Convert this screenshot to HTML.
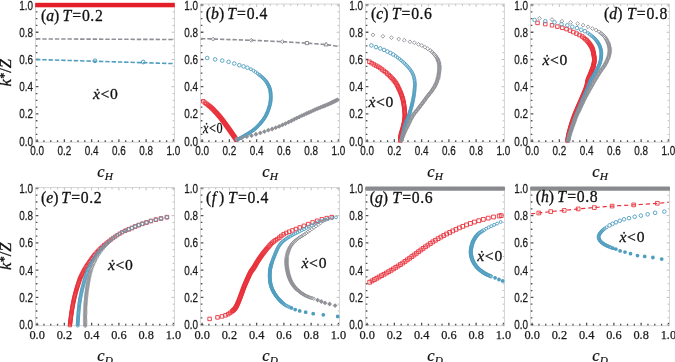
<!DOCTYPE html><html><head><meta charset="utf-8"><style>html,body{margin:0;padding:0;background:#fff;overflow:hidden}svg{display:block;will-change:transform}.tk{font-family:"Liberation Sans",sans-serif;font-size:12.7px;fill:#1a1a1a;stroke:#1a1a1a;stroke-width:0.25px}.tx{font-family:"Liberation Serif",serif;font-size:12.3px;fill:#1a1a1a;stroke:#1a1a1a;stroke-width:0.25px}.ti{font-family:"Liberation Serif",serif;font-size:15.7px;fill:#111;stroke:#111;stroke-width:0.3px}.xn{font-family:"Liberation Serif",serif;font-size:15.6px;fill:#111;stroke:#111;stroke-width:0.3px}.ax{font-family:"Liberation Serif",serif;font-size:16.5px;fill:#111;stroke:#111;stroke-width:0.3px}</style></head><body>
<svg width="675" height="362" viewBox="0 0 675 362">
<rect width="675" height="362" fill="#fff"/>
<rect x="35.5" y="4" width="139" height="138.2" fill="none" stroke="#d6d6d6" stroke-width="1"/>
<path d="M35.8 141.2h2.6M37.1 141.9v-2.6M35.8 134.39h1.6M43.92 141.9v-1.6M35.8 127.58h1.6M50.73 141.9v-1.6M35.8 120.77h1.6M57.55 141.9v-1.6M35.8 113.96h2.6M64.36 141.9v-2.6M35.8 107.15h1.6M71.18 141.9v-1.6M35.8 100.34h1.6M77.99 141.9v-1.6M35.8 93.53h1.6M84.81 141.9v-1.6M35.8 86.72h2.6M91.62 141.9v-2.6M35.8 79.91h1.6M98.44 141.9v-1.6M35.8 73.1h1.6M105.25 141.9v-1.6M35.8 66.29h1.6M112.07 141.9v-1.6M35.8 59.48h2.6M118.88 141.9v-2.6M35.8 52.67h1.6M125.7 141.9v-1.6M35.8 45.86h1.6M132.51 141.9v-1.6M35.8 39.05h1.6M139.33 141.9v-1.6M35.8 32.24h2.6M146.14 141.9v-2.6M35.8 25.43h1.6M152.96 141.9v-1.6M35.8 18.62h1.6M159.77 141.9v-1.6M35.8 11.81h1.6M166.59 141.9v-1.6M35.8 5h2.6M173.4 141.9v-2.6" stroke="#505050" stroke-width="1.3" fill="none"/>
<path d="M174.2 141.2h-2.6M37.1 4.3v2.6M174.2 134.39h-1.6M43.92 4.3v1.6M174.2 127.58h-1.6M50.73 4.3v1.6M174.2 120.77h-1.6M57.55 4.3v1.6M174.2 113.96h-2.6M64.36 4.3v2.6M174.2 107.15h-1.6M71.18 4.3v1.6M174.2 100.34h-1.6M77.99 4.3v1.6M174.2 93.53h-1.6M84.81 4.3v1.6M174.2 86.72h-2.6M91.62 4.3v2.6M174.2 79.91h-1.6M98.44 4.3v1.6M174.2 73.1h-1.6M105.25 4.3v1.6M174.2 66.29h-1.6M112.07 4.3v1.6M174.2 59.48h-2.6M118.88 4.3v2.6M174.2 52.67h-1.6M125.7 4.3v1.6M174.2 45.86h-1.6M132.51 4.3v1.6M174.2 39.05h-1.6M139.33 4.3v1.6M174.2 32.24h-2.6M146.14 4.3v2.6M174.2 25.43h-1.6M152.96 4.3v1.6M174.2 18.62h-1.6M159.77 4.3v1.6M174.2 11.81h-1.6M166.59 4.3v1.6M174.2 5h-2.6M173.4 4.3v2.6" stroke="#bdbdbd" stroke-width="1" fill="none"/>
<text x="0" y="0" transform="translate(33 145.7) scale(0.78 1)" text-anchor="end" class="tk">0.0</text>
<text x="0" y="0" transform="translate(33 118.46) scale(0.78 1)" text-anchor="end" class="tk">0.2</text>
<text x="0" y="0" transform="translate(33 91.22) scale(0.78 1)" text-anchor="end" class="tk">0.4</text>
<text x="0" y="0" transform="translate(33 63.98) scale(0.78 1)" text-anchor="end" class="tk">0.6</text>
<text x="0" y="0" transform="translate(33 36.74) scale(0.78 1)" text-anchor="end" class="tk">0.8</text>
<text x="0" y="0" transform="translate(33 9.5) scale(0.78 1)" text-anchor="end" class="tk">1.0</text>
<text x="0" y="0" transform="translate(37.1 155.1) scale(0.78 1)" text-anchor="middle" class="tk">0.0</text>
<text x="0" y="0" transform="translate(64.36 155.1) scale(0.78 1)" text-anchor="middle" class="tk">0.2</text>
<text x="0" y="0" transform="translate(91.62 155.1) scale(0.78 1)" text-anchor="middle" class="tk">0.4</text>
<text x="0" y="0" transform="translate(118.88 155.1) scale(0.78 1)" text-anchor="middle" class="tk">0.6</text>
<text x="0" y="0" transform="translate(146.14 155.1) scale(0.78 1)" text-anchor="middle" class="tk">0.8</text>
<text x="0" y="0" transform="translate(173.4 155.1) scale(0.78 1)" text-anchor="middle" class="tk">1.0</text>
<rect x="200.5" y="4" width="139" height="138.2" fill="none" stroke="#d6d6d6" stroke-width="1"/>
<path d="M200.8 141.2h2.6M202.1 141.9v-2.6M200.8 134.39h1.6M208.91 141.9v-1.6M200.8 127.58h1.6M215.73 141.9v-1.6M200.8 120.77h1.6M222.54 141.9v-1.6M200.8 113.96h2.6M229.36 141.9v-2.6M200.8 107.15h1.6M236.18 141.9v-1.6M200.8 100.34h1.6M242.99 141.9v-1.6M200.8 93.53h1.6M249.81 141.9v-1.6M200.8 86.72h2.6M256.62 141.9v-2.6M200.8 79.91h1.6M263.44 141.9v-1.6M200.8 73.1h1.6M270.25 141.9v-1.6M200.8 66.29h1.6M277.06 141.9v-1.6M200.8 59.48h2.6M283.88 141.9v-2.6M200.8 52.67h1.6M290.69 141.9v-1.6M200.8 45.86h1.6M297.51 141.9v-1.6M200.8 39.05h1.6M304.32 141.9v-1.6M200.8 32.24h2.6M311.14 141.9v-2.6M200.8 25.43h1.6M317.96 141.9v-1.6M200.8 18.62h1.6M324.77 141.9v-1.6M200.8 11.81h1.6M331.59 141.9v-1.6M200.8 5h2.6M338.4 141.9v-2.6" stroke="#505050" stroke-width="1.3" fill="none"/>
<path d="M339.2 141.2h-2.6M202.1 4.3v2.6M339.2 134.39h-1.6M208.91 4.3v1.6M339.2 127.58h-1.6M215.73 4.3v1.6M339.2 120.77h-1.6M222.54 4.3v1.6M339.2 113.96h-2.6M229.36 4.3v2.6M339.2 107.15h-1.6M236.18 4.3v1.6M339.2 100.34h-1.6M242.99 4.3v1.6M339.2 93.53h-1.6M249.81 4.3v1.6M339.2 86.72h-2.6M256.62 4.3v2.6M339.2 79.91h-1.6M263.44 4.3v1.6M339.2 73.1h-1.6M270.25 4.3v1.6M339.2 66.29h-1.6M277.06 4.3v1.6M339.2 59.48h-2.6M283.88 4.3v2.6M339.2 52.67h-1.6M290.69 4.3v1.6M339.2 45.86h-1.6M297.51 4.3v1.6M339.2 39.05h-1.6M304.32 4.3v1.6M339.2 32.24h-2.6M311.14 4.3v2.6M339.2 25.43h-1.6M317.96 4.3v1.6M339.2 18.62h-1.6M324.77 4.3v1.6M339.2 11.81h-1.6M331.59 4.3v1.6M339.2 5h-2.6M338.4 4.3v2.6" stroke="#bdbdbd" stroke-width="1" fill="none"/>
<text x="0" y="0" transform="translate(198 145.7) scale(0.78 1)" text-anchor="end" class="tk">0.0</text>
<text x="0" y="0" transform="translate(198 118.46) scale(0.78 1)" text-anchor="end" class="tk">0.2</text>
<text x="0" y="0" transform="translate(198 91.22) scale(0.78 1)" text-anchor="end" class="tk">0.4</text>
<text x="0" y="0" transform="translate(198 63.98) scale(0.78 1)" text-anchor="end" class="tk">0.6</text>
<text x="0" y="0" transform="translate(198 36.74) scale(0.78 1)" text-anchor="end" class="tk">0.8</text>
<text x="0" y="0" transform="translate(198 9.5) scale(0.78 1)" text-anchor="end" class="tk">1.0</text>
<text x="0" y="0" transform="translate(202.1 155.1) scale(0.78 1)" text-anchor="middle" class="tk">0.0</text>
<text x="0" y="0" transform="translate(229.36 155.1) scale(0.78 1)" text-anchor="middle" class="tk">0.2</text>
<text x="0" y="0" transform="translate(256.62 155.1) scale(0.78 1)" text-anchor="middle" class="tk">0.4</text>
<text x="0" y="0" transform="translate(283.88 155.1) scale(0.78 1)" text-anchor="middle" class="tk">0.6</text>
<text x="0" y="0" transform="translate(311.14 155.1) scale(0.78 1)" text-anchor="middle" class="tk">0.8</text>
<text x="0" y="0" transform="translate(338.4 155.1) scale(0.78 1)" text-anchor="middle" class="tk">1.0</text>
<rect x="365.5" y="4" width="139" height="138.2" fill="none" stroke="#d6d6d6" stroke-width="1"/>
<path d="M365.8 141.2h2.6M367.1 141.9v-2.6M365.8 134.39h1.6M373.92 141.9v-1.6M365.8 127.58h1.6M380.73 141.9v-1.6M365.8 120.77h1.6M387.55 141.9v-1.6M365.8 113.96h2.6M394.36 141.9v-2.6M365.8 107.15h1.6M401.18 141.9v-1.6M365.8 100.34h1.6M407.99 141.9v-1.6M365.8 93.53h1.6M414.81 141.9v-1.6M365.8 86.72h2.6M421.62 141.9v-2.6M365.8 79.91h1.6M428.44 141.9v-1.6M365.8 73.1h1.6M435.25 141.9v-1.6M365.8 66.29h1.6M442.07 141.9v-1.6M365.8 59.48h2.6M448.88 141.9v-2.6M365.8 52.67h1.6M455.7 141.9v-1.6M365.8 45.86h1.6M462.51 141.9v-1.6M365.8 39.05h1.6M469.33 141.9v-1.6M365.8 32.24h2.6M476.14 141.9v-2.6M365.8 25.43h1.6M482.96 141.9v-1.6M365.8 18.62h1.6M489.77 141.9v-1.6M365.8 11.81h1.6M496.59 141.9v-1.6M365.8 5h2.6M503.4 141.9v-2.6" stroke="#505050" stroke-width="1.3" fill="none"/>
<path d="M504.2 141.2h-2.6M367.1 4.3v2.6M504.2 134.39h-1.6M373.92 4.3v1.6M504.2 127.58h-1.6M380.73 4.3v1.6M504.2 120.77h-1.6M387.55 4.3v1.6M504.2 113.96h-2.6M394.36 4.3v2.6M504.2 107.15h-1.6M401.18 4.3v1.6M504.2 100.34h-1.6M407.99 4.3v1.6M504.2 93.53h-1.6M414.81 4.3v1.6M504.2 86.72h-2.6M421.62 4.3v2.6M504.2 79.91h-1.6M428.44 4.3v1.6M504.2 73.1h-1.6M435.25 4.3v1.6M504.2 66.29h-1.6M442.07 4.3v1.6M504.2 59.48h-2.6M448.88 4.3v2.6M504.2 52.67h-1.6M455.7 4.3v1.6M504.2 45.86h-1.6M462.51 4.3v1.6M504.2 39.05h-1.6M469.33 4.3v1.6M504.2 32.24h-2.6M476.14 4.3v2.6M504.2 25.43h-1.6M482.96 4.3v1.6M504.2 18.62h-1.6M489.77 4.3v1.6M504.2 11.81h-1.6M496.59 4.3v1.6M504.2 5h-2.6M503.4 4.3v2.6" stroke="#bdbdbd" stroke-width="1" fill="none"/>
<text x="0" y="0" transform="translate(363 145.7) scale(0.78 1)" text-anchor="end" class="tk">0.0</text>
<text x="0" y="0" transform="translate(363 118.46) scale(0.78 1)" text-anchor="end" class="tk">0.2</text>
<text x="0" y="0" transform="translate(363 91.22) scale(0.78 1)" text-anchor="end" class="tk">0.4</text>
<text x="0" y="0" transform="translate(363 63.98) scale(0.78 1)" text-anchor="end" class="tk">0.6</text>
<text x="0" y="0" transform="translate(363 36.74) scale(0.78 1)" text-anchor="end" class="tk">0.8</text>
<text x="0" y="0" transform="translate(363 9.5) scale(0.78 1)" text-anchor="end" class="tk">1.0</text>
<text x="0" y="0" transform="translate(367.1 155.1) scale(0.78 1)" text-anchor="middle" class="tk">0.0</text>
<text x="0" y="0" transform="translate(394.36 155.1) scale(0.78 1)" text-anchor="middle" class="tk">0.2</text>
<text x="0" y="0" transform="translate(421.62 155.1) scale(0.78 1)" text-anchor="middle" class="tk">0.4</text>
<text x="0" y="0" transform="translate(448.88 155.1) scale(0.78 1)" text-anchor="middle" class="tk">0.6</text>
<text x="0" y="0" transform="translate(476.14 155.1) scale(0.78 1)" text-anchor="middle" class="tk">0.8</text>
<text x="0" y="0" transform="translate(503.4 155.1) scale(0.78 1)" text-anchor="middle" class="tk">1.0</text>
<rect x="530.5" y="4" width="139" height="138.2" fill="none" stroke="#d6d6d6" stroke-width="1"/>
<path d="M530.8 141.2h2.6M532.1 141.9v-2.6M530.8 134.39h1.6M538.92 141.9v-1.6M530.8 127.58h1.6M545.73 141.9v-1.6M530.8 120.77h1.6M552.55 141.9v-1.6M530.8 113.96h2.6M559.36 141.9v-2.6M530.8 107.15h1.6M566.18 141.9v-1.6M530.8 100.34h1.6M572.99 141.9v-1.6M530.8 93.53h1.6M579.81 141.9v-1.6M530.8 86.72h2.6M586.62 141.9v-2.6M530.8 79.91h1.6M593.44 141.9v-1.6M530.8 73.1h1.6M600.25 141.9v-1.6M530.8 66.29h1.6M607.07 141.9v-1.6M530.8 59.48h2.6M613.88 141.9v-2.6M530.8 52.67h1.6M620.7 141.9v-1.6M530.8 45.86h1.6M627.51 141.9v-1.6M530.8 39.05h1.6M634.33 141.9v-1.6M530.8 32.24h2.6M641.14 141.9v-2.6M530.8 25.43h1.6M647.96 141.9v-1.6M530.8 18.62h1.6M654.77 141.9v-1.6M530.8 11.81h1.6M661.59 141.9v-1.6M530.8 5h2.6M668.4 141.9v-2.6" stroke="#505050" stroke-width="1.3" fill="none"/>
<path d="M669.2 141.2h-2.6M532.1 4.3v2.6M669.2 134.39h-1.6M538.92 4.3v1.6M669.2 127.58h-1.6M545.73 4.3v1.6M669.2 120.77h-1.6M552.55 4.3v1.6M669.2 113.96h-2.6M559.36 4.3v2.6M669.2 107.15h-1.6M566.18 4.3v1.6M669.2 100.34h-1.6M572.99 4.3v1.6M669.2 93.53h-1.6M579.81 4.3v1.6M669.2 86.72h-2.6M586.62 4.3v2.6M669.2 79.91h-1.6M593.44 4.3v1.6M669.2 73.1h-1.6M600.25 4.3v1.6M669.2 66.29h-1.6M607.07 4.3v1.6M669.2 59.48h-2.6M613.88 4.3v2.6M669.2 52.67h-1.6M620.7 4.3v1.6M669.2 45.86h-1.6M627.51 4.3v1.6M669.2 39.05h-1.6M634.33 4.3v1.6M669.2 32.24h-2.6M641.14 4.3v2.6M669.2 25.43h-1.6M647.96 4.3v1.6M669.2 18.62h-1.6M654.77 4.3v1.6M669.2 11.81h-1.6M661.59 4.3v1.6M669.2 5h-2.6M668.4 4.3v2.6" stroke="#bdbdbd" stroke-width="1" fill="none"/>
<text x="0" y="0" transform="translate(528 145.7) scale(0.78 1)" text-anchor="end" class="tk">0.0</text>
<text x="0" y="0" transform="translate(528 118.46) scale(0.78 1)" text-anchor="end" class="tk">0.2</text>
<text x="0" y="0" transform="translate(528 91.22) scale(0.78 1)" text-anchor="end" class="tk">0.4</text>
<text x="0" y="0" transform="translate(528 63.98) scale(0.78 1)" text-anchor="end" class="tk">0.6</text>
<text x="0" y="0" transform="translate(528 36.74) scale(0.78 1)" text-anchor="end" class="tk">0.8</text>
<text x="0" y="0" transform="translate(528 9.5) scale(0.78 1)" text-anchor="end" class="tk">1.0</text>
<text x="0" y="0" transform="translate(532.1 155.1) scale(0.78 1)" text-anchor="middle" class="tk">0.0</text>
<text x="0" y="0" transform="translate(559.36 155.1) scale(0.78 1)" text-anchor="middle" class="tk">0.2</text>
<text x="0" y="0" transform="translate(586.62 155.1) scale(0.78 1)" text-anchor="middle" class="tk">0.4</text>
<text x="0" y="0" transform="translate(613.88 155.1) scale(0.78 1)" text-anchor="middle" class="tk">0.6</text>
<text x="0" y="0" transform="translate(641.14 155.1) scale(0.78 1)" text-anchor="middle" class="tk">0.8</text>
<text x="0" y="0" transform="translate(668.4 155.1) scale(0.78 1)" text-anchor="middle" class="tk">1.0</text>
<rect x="35.5" y="187.5" width="139" height="138.2" fill="none" stroke="#d6d6d6" stroke-width="1"/>
<path d="M35.8 324.6h2.6M37.1 325.4v-2.6M35.8 317.79h1.6M43.92 325.4v-1.6M35.8 310.98h1.6M50.73 325.4v-1.6M35.8 304.17h1.6M57.55 325.4v-1.6M35.8 297.36h2.6M64.36 325.4v-2.6M35.8 290.55h1.6M71.18 325.4v-1.6M35.8 283.74h1.6M77.99 325.4v-1.6M35.8 276.93h1.6M84.81 325.4v-1.6M35.8 270.12h2.6M91.62 325.4v-2.6M35.8 263.31h1.6M98.44 325.4v-1.6M35.8 256.5h1.6M105.25 325.4v-1.6M35.8 249.69h1.6M112.07 325.4v-1.6M35.8 242.88h2.6M118.88 325.4v-2.6M35.8 236.07h1.6M125.7 325.4v-1.6M35.8 229.26h1.6M132.51 325.4v-1.6M35.8 222.45h1.6M139.33 325.4v-1.6M35.8 215.64h2.6M146.14 325.4v-2.6M35.8 208.83h1.6M152.96 325.4v-1.6M35.8 202.02h1.6M159.77 325.4v-1.6M35.8 195.21h1.6M166.59 325.4v-1.6M35.8 188.4h2.6M173.4 325.4v-2.6" stroke="#505050" stroke-width="1.3" fill="none"/>
<path d="M174.2 324.6h-2.6M37.1 187.8v2.6M174.2 317.79h-1.6M43.92 187.8v1.6M174.2 310.98h-1.6M50.73 187.8v1.6M174.2 304.17h-1.6M57.55 187.8v1.6M174.2 297.36h-2.6M64.36 187.8v2.6M174.2 290.55h-1.6M71.18 187.8v1.6M174.2 283.74h-1.6M77.99 187.8v1.6M174.2 276.93h-1.6M84.81 187.8v1.6M174.2 270.12h-2.6M91.62 187.8v2.6M174.2 263.31h-1.6M98.44 187.8v1.6M174.2 256.5h-1.6M105.25 187.8v1.6M174.2 249.69h-1.6M112.07 187.8v1.6M174.2 242.88h-2.6M118.88 187.8v2.6M174.2 236.07h-1.6M125.7 187.8v1.6M174.2 229.26h-1.6M132.51 187.8v1.6M174.2 222.45h-1.6M139.33 187.8v1.6M174.2 215.64h-2.6M146.14 187.8v2.6M174.2 208.83h-1.6M152.96 187.8v1.6M174.2 202.02h-1.6M159.77 187.8v1.6M174.2 195.21h-1.6M166.59 187.8v1.6M174.2 188.4h-2.6M173.4 187.8v2.6" stroke="#bdbdbd" stroke-width="1" fill="none"/>
<text x="0" y="0" transform="translate(33 329.1) scale(0.78 1)" text-anchor="end" class="tk">0.0</text>
<text x="0" y="0" transform="translate(33 301.86) scale(0.78 1)" text-anchor="end" class="tk">0.2</text>
<text x="0" y="0" transform="translate(33 274.62) scale(0.78 1)" text-anchor="end" class="tk">0.4</text>
<text x="0" y="0" transform="translate(33 247.38) scale(0.78 1)" text-anchor="end" class="tk">0.6</text>
<text x="0" y="0" transform="translate(33 220.14) scale(0.78 1)" text-anchor="end" class="tk">0.8</text>
<text x="0" y="0" transform="translate(33 192.9) scale(0.78 1)" text-anchor="end" class="tk">1.0</text>
<text x="37.1" y="338.6" text-anchor="middle" class="tx">0.0</text>
<text x="64.36" y="338.6" text-anchor="middle" class="tx">0.2</text>
<text x="91.62" y="338.6" text-anchor="middle" class="tx">0.4</text>
<text x="118.88" y="338.6" text-anchor="middle" class="tx">0.6</text>
<text x="146.14" y="338.6" text-anchor="middle" class="tx">0.8</text>
<text x="173.4" y="338.6" text-anchor="middle" class="tx">1.0</text>
<rect x="200.5" y="187.5" width="139" height="138.2" fill="none" stroke="#d6d6d6" stroke-width="1"/>
<path d="M200.8 324.6h2.6M202.1 325.4v-2.6M200.8 317.79h1.6M208.91 325.4v-1.6M200.8 310.98h1.6M215.73 325.4v-1.6M200.8 304.17h1.6M222.54 325.4v-1.6M200.8 297.36h2.6M229.36 325.4v-2.6M200.8 290.55h1.6M236.18 325.4v-1.6M200.8 283.74h1.6M242.99 325.4v-1.6M200.8 276.93h1.6M249.81 325.4v-1.6M200.8 270.12h2.6M256.62 325.4v-2.6M200.8 263.31h1.6M263.44 325.4v-1.6M200.8 256.5h1.6M270.25 325.4v-1.6M200.8 249.69h1.6M277.06 325.4v-1.6M200.8 242.88h2.6M283.88 325.4v-2.6M200.8 236.07h1.6M290.69 325.4v-1.6M200.8 229.26h1.6M297.51 325.4v-1.6M200.8 222.45h1.6M304.32 325.4v-1.6M200.8 215.64h2.6M311.14 325.4v-2.6M200.8 208.83h1.6M317.96 325.4v-1.6M200.8 202.02h1.6M324.77 325.4v-1.6M200.8 195.21h1.6M331.59 325.4v-1.6M200.8 188.4h2.6M338.4 325.4v-2.6" stroke="#505050" stroke-width="1.3" fill="none"/>
<path d="M339.2 324.6h-2.6M202.1 187.8v2.6M339.2 317.79h-1.6M208.91 187.8v1.6M339.2 310.98h-1.6M215.73 187.8v1.6M339.2 304.17h-1.6M222.54 187.8v1.6M339.2 297.36h-2.6M229.36 187.8v2.6M339.2 290.55h-1.6M236.18 187.8v1.6M339.2 283.74h-1.6M242.99 187.8v1.6M339.2 276.93h-1.6M249.81 187.8v1.6M339.2 270.12h-2.6M256.62 187.8v2.6M339.2 263.31h-1.6M263.44 187.8v1.6M339.2 256.5h-1.6M270.25 187.8v1.6M339.2 249.69h-1.6M277.06 187.8v1.6M339.2 242.88h-2.6M283.88 187.8v2.6M339.2 236.07h-1.6M290.69 187.8v1.6M339.2 229.26h-1.6M297.51 187.8v1.6M339.2 222.45h-1.6M304.32 187.8v1.6M339.2 215.64h-2.6M311.14 187.8v2.6M339.2 208.83h-1.6M317.96 187.8v1.6M339.2 202.02h-1.6M324.77 187.8v1.6M339.2 195.21h-1.6M331.59 187.8v1.6M339.2 188.4h-2.6M338.4 187.8v2.6" stroke="#bdbdbd" stroke-width="1" fill="none"/>
<text x="0" y="0" transform="translate(198 329.1) scale(0.78 1)" text-anchor="end" class="tk">0.0</text>
<text x="0" y="0" transform="translate(198 301.86) scale(0.78 1)" text-anchor="end" class="tk">0.2</text>
<text x="0" y="0" transform="translate(198 274.62) scale(0.78 1)" text-anchor="end" class="tk">0.4</text>
<text x="0" y="0" transform="translate(198 247.38) scale(0.78 1)" text-anchor="end" class="tk">0.6</text>
<text x="0" y="0" transform="translate(198 220.14) scale(0.78 1)" text-anchor="end" class="tk">0.8</text>
<text x="0" y="0" transform="translate(198 192.9) scale(0.78 1)" text-anchor="end" class="tk">1.0</text>
<text x="202.1" y="338.6" text-anchor="middle" class="tx">0.0</text>
<text x="229.36" y="338.6" text-anchor="middle" class="tx">0.2</text>
<text x="256.62" y="338.6" text-anchor="middle" class="tx">0.4</text>
<text x="283.88" y="338.6" text-anchor="middle" class="tx">0.6</text>
<text x="311.14" y="338.6" text-anchor="middle" class="tx">0.8</text>
<text x="338.4" y="338.6" text-anchor="middle" class="tx">1.0</text>
<rect x="365.5" y="187.5" width="139" height="138.2" fill="none" stroke="#d6d6d6" stroke-width="1"/>
<path d="M365.8 324.6h2.6M367.1 325.4v-2.6M365.8 317.79h1.6M373.92 325.4v-1.6M365.8 310.98h1.6M380.73 325.4v-1.6M365.8 304.17h1.6M387.55 325.4v-1.6M365.8 297.36h2.6M394.36 325.4v-2.6M365.8 290.55h1.6M401.18 325.4v-1.6M365.8 283.74h1.6M407.99 325.4v-1.6M365.8 276.93h1.6M414.81 325.4v-1.6M365.8 270.12h2.6M421.62 325.4v-2.6M365.8 263.31h1.6M428.44 325.4v-1.6M365.8 256.5h1.6M435.25 325.4v-1.6M365.8 249.69h1.6M442.07 325.4v-1.6M365.8 242.88h2.6M448.88 325.4v-2.6M365.8 236.07h1.6M455.7 325.4v-1.6M365.8 229.26h1.6M462.51 325.4v-1.6M365.8 222.45h1.6M469.33 325.4v-1.6M365.8 215.64h2.6M476.14 325.4v-2.6M365.8 208.83h1.6M482.96 325.4v-1.6M365.8 202.02h1.6M489.77 325.4v-1.6M365.8 195.21h1.6M496.59 325.4v-1.6M365.8 188.4h2.6M503.4 325.4v-2.6" stroke="#505050" stroke-width="1.3" fill="none"/>
<path d="M504.2 324.6h-2.6M367.1 187.8v2.6M504.2 317.79h-1.6M373.92 187.8v1.6M504.2 310.98h-1.6M380.73 187.8v1.6M504.2 304.17h-1.6M387.55 187.8v1.6M504.2 297.36h-2.6M394.36 187.8v2.6M504.2 290.55h-1.6M401.18 187.8v1.6M504.2 283.74h-1.6M407.99 187.8v1.6M504.2 276.93h-1.6M414.81 187.8v1.6M504.2 270.12h-2.6M421.62 187.8v2.6M504.2 263.31h-1.6M428.44 187.8v1.6M504.2 256.5h-1.6M435.25 187.8v1.6M504.2 249.69h-1.6M442.07 187.8v1.6M504.2 242.88h-2.6M448.88 187.8v2.6M504.2 236.07h-1.6M455.7 187.8v1.6M504.2 229.26h-1.6M462.51 187.8v1.6M504.2 222.45h-1.6M469.33 187.8v1.6M504.2 215.64h-2.6M476.14 187.8v2.6M504.2 208.83h-1.6M482.96 187.8v1.6M504.2 202.02h-1.6M489.77 187.8v1.6M504.2 195.21h-1.6M496.59 187.8v1.6M504.2 188.4h-2.6M503.4 187.8v2.6" stroke="#bdbdbd" stroke-width="1" fill="none"/>
<text x="0" y="0" transform="translate(363 329.1) scale(0.78 1)" text-anchor="end" class="tk">0.0</text>
<text x="0" y="0" transform="translate(363 301.86) scale(0.78 1)" text-anchor="end" class="tk">0.2</text>
<text x="0" y="0" transform="translate(363 274.62) scale(0.78 1)" text-anchor="end" class="tk">0.4</text>
<text x="0" y="0" transform="translate(363 247.38) scale(0.78 1)" text-anchor="end" class="tk">0.6</text>
<text x="0" y="0" transform="translate(363 220.14) scale(0.78 1)" text-anchor="end" class="tk">0.8</text>
<text x="0" y="0" transform="translate(363 192.9) scale(0.78 1)" text-anchor="end" class="tk">1.0</text>
<text x="367.1" y="338.6" text-anchor="middle" class="tx">0.0</text>
<text x="394.36" y="338.6" text-anchor="middle" class="tx">0.2</text>
<text x="421.62" y="338.6" text-anchor="middle" class="tx">0.4</text>
<text x="448.88" y="338.6" text-anchor="middle" class="tx">0.6</text>
<text x="476.14" y="338.6" text-anchor="middle" class="tx">0.8</text>
<text x="503.4" y="338.6" text-anchor="middle" class="tx">1.0</text>
<rect x="530.5" y="187.5" width="139" height="138.2" fill="none" stroke="#d6d6d6" stroke-width="1"/>
<path d="M530.8 324.6h2.6M532.1 325.4v-2.6M530.8 317.79h1.6M538.92 325.4v-1.6M530.8 310.98h1.6M545.73 325.4v-1.6M530.8 304.17h1.6M552.55 325.4v-1.6M530.8 297.36h2.6M559.36 325.4v-2.6M530.8 290.55h1.6M566.18 325.4v-1.6M530.8 283.74h1.6M572.99 325.4v-1.6M530.8 276.93h1.6M579.81 325.4v-1.6M530.8 270.12h2.6M586.62 325.4v-2.6M530.8 263.31h1.6M593.44 325.4v-1.6M530.8 256.5h1.6M600.25 325.4v-1.6M530.8 249.69h1.6M607.07 325.4v-1.6M530.8 242.88h2.6M613.88 325.4v-2.6M530.8 236.07h1.6M620.7 325.4v-1.6M530.8 229.26h1.6M627.51 325.4v-1.6M530.8 222.45h1.6M634.33 325.4v-1.6M530.8 215.64h2.6M641.14 325.4v-2.6M530.8 208.83h1.6M647.96 325.4v-1.6M530.8 202.02h1.6M654.77 325.4v-1.6M530.8 195.21h1.6M661.59 325.4v-1.6M530.8 188.4h2.6M668.4 325.4v-2.6" stroke="#505050" stroke-width="1.3" fill="none"/>
<path d="M669.2 324.6h-2.6M532.1 187.8v2.6M669.2 317.79h-1.6M538.92 187.8v1.6M669.2 310.98h-1.6M545.73 187.8v1.6M669.2 304.17h-1.6M552.55 187.8v1.6M669.2 297.36h-2.6M559.36 187.8v2.6M669.2 290.55h-1.6M566.18 187.8v1.6M669.2 283.74h-1.6M572.99 187.8v1.6M669.2 276.93h-1.6M579.81 187.8v1.6M669.2 270.12h-2.6M586.62 187.8v2.6M669.2 263.31h-1.6M593.44 187.8v1.6M669.2 256.5h-1.6M600.25 187.8v1.6M669.2 249.69h-1.6M607.07 187.8v1.6M669.2 242.88h-2.6M613.88 187.8v2.6M669.2 236.07h-1.6M620.7 187.8v1.6M669.2 229.26h-1.6M627.51 187.8v1.6M669.2 222.45h-1.6M634.33 187.8v1.6M669.2 215.64h-2.6M641.14 187.8v2.6M669.2 208.83h-1.6M647.96 187.8v1.6M669.2 202.02h-1.6M654.77 187.8v1.6M669.2 195.21h-1.6M661.59 187.8v1.6M669.2 188.4h-2.6M668.4 187.8v2.6" stroke="#bdbdbd" stroke-width="1" fill="none"/>
<text x="0" y="0" transform="translate(528 329.1) scale(0.78 1)" text-anchor="end" class="tk">0.0</text>
<text x="0" y="0" transform="translate(528 301.86) scale(0.78 1)" text-anchor="end" class="tk">0.2</text>
<text x="0" y="0" transform="translate(528 274.62) scale(0.78 1)" text-anchor="end" class="tk">0.4</text>
<text x="0" y="0" transform="translate(528 247.38) scale(0.78 1)" text-anchor="end" class="tk">0.6</text>
<text x="0" y="0" transform="translate(528 220.14) scale(0.78 1)" text-anchor="end" class="tk">0.8</text>
<text x="0" y="0" transform="translate(528 192.9) scale(0.78 1)" text-anchor="end" class="tk">1.0</text>
<text x="532.1" y="338.6" text-anchor="middle" class="tx">0.0</text>
<text x="559.36" y="338.6" text-anchor="middle" class="tx">0.2</text>
<text x="586.62" y="338.6" text-anchor="middle" class="tx">0.4</text>
<text x="613.88" y="338.6" text-anchor="middle" class="tx">0.6</text>
<text x="641.14" y="338.6" text-anchor="middle" class="tx">0.8</text>
<text x="668.4" y="338.6" text-anchor="middle" class="tx">1.0</text>
<text x="0" y="0" transform="translate(11.2 72.7) rotate(-90)" text-anchor="middle" class="ax"><tspan font-style="italic">k</tspan><tspan dy="-3" dx="0.3" font-size="12px">*</tspan><tspan dy="3">/</tspan><tspan font-style="italic">Z</tspan></text>
<text x="0" y="0" transform="translate(11.2 256.2) rotate(-90)" text-anchor="middle" class="ax"><tspan font-style="italic">k</tspan><tspan dy="-3" dx="0.3" font-size="12px">*</tspan><tspan dy="3">/</tspan><tspan font-style="italic">Z</tspan></text>
<text x="105" y="176.5" class="ax" text-anchor="middle" style="stroke:#111;stroke-width:0.2px"><tspan font-style="italic" font-size="16.5px">c</tspan><tspan font-style="italic" font-size="11.3px" dx="0.2" dy="3">H</tspan></text>
<text x="105" y="360.6" class="ax" text-anchor="middle" style="stroke:#111;stroke-width:0.2px"><tspan font-style="italic" font-size="16.5px">c</tspan><tspan font-style="italic" font-size="11.3px" dx="0.2" dy="3">D</tspan></text>
<text x="270" y="176.5" class="ax" text-anchor="middle" style="stroke:#111;stroke-width:0.2px"><tspan font-style="italic" font-size="16.5px">c</tspan><tspan font-style="italic" font-size="11.3px" dx="0.2" dy="3">H</tspan></text>
<text x="270" y="360.6" class="ax" text-anchor="middle" style="stroke:#111;stroke-width:0.2px"><tspan font-style="italic" font-size="16.5px">c</tspan><tspan font-style="italic" font-size="11.3px" dx="0.2" dy="3">D</tspan></text>
<text x="435" y="176.5" class="ax" text-anchor="middle" style="stroke:#111;stroke-width:0.2px"><tspan font-style="italic" font-size="16.5px">c</tspan><tspan font-style="italic" font-size="11.3px" dx="0.2" dy="3">H</tspan></text>
<text x="435" y="360.6" class="ax" text-anchor="middle" style="stroke:#111;stroke-width:0.2px"><tspan font-style="italic" font-size="16.5px">c</tspan><tspan font-style="italic" font-size="11.3px" dx="0.2" dy="3">D</tspan></text>
<text x="600" y="176.5" class="ax" text-anchor="middle" style="stroke:#111;stroke-width:0.2px"><tspan font-style="italic" font-size="16.5px">c</tspan><tspan font-style="italic" font-size="11.3px" dx="0.2" dy="3">H</tspan></text>
<text x="600" y="360.6" class="ax" text-anchor="middle" style="stroke:#111;stroke-width:0.2px"><tspan font-style="italic" font-size="16.5px">c</tspan><tspan font-style="italic" font-size="11.3px" dx="0.2" dy="3">D</tspan></text>
<rect x="35.2" y="2.8" width="139.6" height="4.5" fill="#e41e28"/>
<path d="M36 38.9L53.25 38.98L70.5 39.05L87.75 39.12L105 39.2L122.25 39.27L139.5 39.35L156.75 39.42L174 39.5" fill="none" stroke="#8f9196" stroke-width="1.6" stroke-dasharray="4.4 1.9"/>
<path d="M36 59.5L53.25 60.01L70.5 60.52L87.75 61.04L105 61.55L122.25 62.06L139.5 62.58L156.75 63.09L174 63.6" fill="none" stroke="#4f9dbf" stroke-width="1.6" stroke-dasharray="4.4 1.9"/>
<path d="M93.1 60.8a1.9 1.9 0 1 0 3.8 0a1.9 1.9 0 1 0 -3.8 0zM141.3 62a1.9 1.9 0 1 0 3.8 0a1.9 1.9 0 1 0 -3.8 0z" fill="none" stroke="#4f9dbf" stroke-width="1"/>
<text x="41" y="20.6" class="ti">(<tspan font-style="italic">a</tspan>) <tspan font-style="italic" dx="-0.8">T</tspan><tspan dx="1.2">=</tspan><tspan dx="0.7" letter-spacing="0.6">0.2</tspan></text>
<text x="92.9" y="98.9" class="xn"><tspan font-style="italic">&#x1E8B;</tspan><tspan dx="0.6">&lt;</tspan><tspan dx="0.8">0</tspan></text>
<path d="M201.55 99.55h3.5v3.5h-3.5zM203.26 100.94h3.5v3.5h-3.5zM204.77 102.16h3.5v3.5h-3.5zM206.12 103.2h3.5v3.5h-3.5zM207.36 104.07h3.5v3.5h-3.5zM208.42 104.89h3.5v3.5h-3.5zM209.38 105.72h3.5v3.5h-3.5zM210.28 106.58h3.5v3.5h-3.5zM211.15 107.44h3.5v3.5h-3.5zM211.98 108.29h3.5v3.5h-3.5zM212.78 109.12h3.5v3.5h-3.5zM213.56 109.95h3.5v3.5h-3.5zM214.32 110.76h3.5v3.5h-3.5zM215.05 111.55h3.5v3.5h-3.5zM215.75 112.34h3.5v3.5h-3.5zM216.43 113.11h3.5v3.5h-3.5zM217.1 113.86h3.5v3.5h-3.5zM217.74 114.62h3.5v3.5h-3.5zM218.37 115.38h3.5v3.5h-3.5zM218.99 116.14h3.5v3.5h-3.5zM219.6 116.91h3.5v3.5h-3.5zM220.2 117.67h3.5v3.5h-3.5zM220.78 118.43h3.5v3.5h-3.5zM221.36 119.2h3.5v3.5h-3.5zM221.93 119.96h3.5v3.5h-3.5zM222.49 120.72h3.5v3.5h-3.5zM223.04 121.48h3.5v3.5h-3.5zM223.59 122.23h3.5v3.5h-3.5zM224.13 122.98h3.5v3.5h-3.5zM224.67 123.73h3.5v3.5h-3.5zM225.2 124.47h3.5v3.5h-3.5zM225.73 125.21h3.5v3.5h-3.5zM226.26 125.94h3.5v3.5h-3.5zM226.78 126.67h3.5v3.5h-3.5zM227.3 127.41h3.5v3.5h-3.5zM227.82 128.14h3.5v3.5h-3.5zM228.34 128.88h3.5v3.5h-3.5zM228.85 129.62h3.5v3.5h-3.5zM229.37 130.36h3.5v3.5h-3.5zM229.88 131.1h3.5v3.5h-3.5zM230.39 131.84h3.5v3.5h-3.5zM230.9 132.58h3.5v3.5h-3.5zM231.41 133.32h3.5v3.5h-3.5zM231.92 134.06h3.5v3.5h-3.5zM232.43 134.81h3.5v3.5h-3.5zM232.94 135.55h3.5v3.5h-3.5zM233.44 136.29h3.5v3.5h-3.5zM233.95 137.03h3.5v3.5h-3.5zM234.46 137.78h3.5v3.5h-3.5zM234.65 138.05h3.5v3.5h-3.5z" fill="none" stroke="#e9303a" stroke-width="0.9"/>
<path d="M205.4 58a1.8 1.8 0 1 0 3.6 0a1.8 1.8 0 1 0 -3.6 0zM213.3 59.4a1.8 1.8 0 1 0 3.6 0a1.8 1.8 0 1 0 -3.6 0zM220.4 60.6a1.8 1.8 0 1 0 3.6 0a1.8 1.8 0 1 0 -3.6 0zM226.8 61.9a1.8 1.8 0 1 0 3.6 0a1.8 1.8 0 1 0 -3.6 0zM232.4 63.5a1.8 1.8 0 1 0 3.6 0a1.8 1.8 0 1 0 -3.6 0zM237.5 65.2a1.8 1.8 0 1 0 3.6 0a1.8 1.8 0 1 0 -3.6 0zM241.7 66.4a1.8 1.8 0 1 0 3.6 0a1.8 1.8 0 1 0 -3.6 0zM245.6 67.7a1.8 1.8 0 1 0 3.6 0a1.8 1.8 0 1 0 -3.6 0z" fill="none" stroke="#4f9dbf" stroke-width="0.9"/>
<path d="M249.45 69.2a1.45 1.45 0 1 0 2.9 0a1.45 1.45 0 1 0 -2.9 0zM252.06 70.68a1.45 1.45 0 1 0 2.9 0a1.45 1.45 0 1 0 -2.9 0zM254.27 72.11a1.45 1.45 0 1 0 2.9 0a1.45 1.45 0 1 0 -2.9 0zM256.11 73.48a1.45 1.45 0 1 0 2.9 0a1.45 1.45 0 1 0 -2.9 0zM257.68 74.75a1.45 1.45 0 1 0 2.9 0a1.45 1.45 0 1 0 -2.9 0zM259.06 75.86a1.45 1.45 0 1 0 2.9 0a1.45 1.45 0 1 0 -2.9 0zM260.27 76.86a1.45 1.45 0 1 0 2.9 0a1.45 1.45 0 1 0 -2.9 0zM261.39 77.84a1.45 1.45 0 1 0 2.9 0a1.45 1.45 0 1 0 -2.9 0zM262.4 78.79a1.45 1.45 0 1 0 2.9 0a1.45 1.45 0 1 0 -2.9 0zM263.3 79.75a1.45 1.45 0 1 0 2.9 0a1.45 1.45 0 1 0 -2.9 0zM264.09 80.7a1.45 1.45 0 1 0 2.9 0a1.45 1.45 0 1 0 -2.9 0zM264.78 81.63a1.45 1.45 0 1 0 2.9 0a1.45 1.45 0 1 0 -2.9 0zM265.4 82.53a1.45 1.45 0 1 0 2.9 0a1.45 1.45 0 1 0 -2.9 0zM265.95 83.41a1.45 1.45 0 1 0 2.9 0a1.45 1.45 0 1 0 -2.9 0zM266.43 84.24a1.45 1.45 0 1 0 2.9 0a1.45 1.45 0 1 0 -2.9 0zM266.86 85.05a1.45 1.45 0 1 0 2.9 0a1.45 1.45 0 1 0 -2.9 0zM267.26 85.86a1.45 1.45 0 1 0 2.9 0a1.45 1.45 0 1 0 -2.9 0zM267.62 86.68a1.45 1.45 0 1 0 2.9 0a1.45 1.45 0 1 0 -2.9 0zM267.96 87.51a1.45 1.45 0 1 0 2.9 0a1.45 1.45 0 1 0 -2.9 0zM268.25 88.36a1.45 1.45 0 1 0 2.9 0a1.45 1.45 0 1 0 -2.9 0zM268.5 89.23a1.45 1.45 0 1 0 2.9 0a1.45 1.45 0 1 0 -2.9 0zM268.71 90.1a1.45 1.45 0 1 0 2.9 0a1.45 1.45 0 1 0 -2.9 0zM268.87 90.99a1.45 1.45 0 1 0 2.9 0a1.45 1.45 0 1 0 -2.9 0zM269.01 91.88a1.45 1.45 0 1 0 2.9 0a1.45 1.45 0 1 0 -2.9 0zM269.11 92.77a1.45 1.45 0 1 0 2.9 0a1.45 1.45 0 1 0 -2.9 0zM269.2 93.67a1.45 1.45 0 1 0 2.9 0a1.45 1.45 0 1 0 -2.9 0zM269.26 94.57a1.45 1.45 0 1 0 2.9 0a1.45 1.45 0 1 0 -2.9 0zM269.3 95.46a1.45 1.45 0 1 0 2.9 0a1.45 1.45 0 1 0 -2.9 0zM269.31 96.36a1.45 1.45 0 1 0 2.9 0a1.45 1.45 0 1 0 -2.9 0zM269.31 97.26a1.45 1.45 0 1 0 2.9 0a1.45 1.45 0 1 0 -2.9 0zM269.29 98.16a1.45 1.45 0 1 0 2.9 0a1.45 1.45 0 1 0 -2.9 0zM269.25 99.06a1.45 1.45 0 1 0 2.9 0a1.45 1.45 0 1 0 -2.9 0zM269.2 99.96a1.45 1.45 0 1 0 2.9 0a1.45 1.45 0 1 0 -2.9 0zM269.12 100.86a1.45 1.45 0 1 0 2.9 0a1.45 1.45 0 1 0 -2.9 0zM269.02 101.75a1.45 1.45 0 1 0 2.9 0a1.45 1.45 0 1 0 -2.9 0zM268.88 102.64a1.45 1.45 0 1 0 2.9 0a1.45 1.45 0 1 0 -2.9 0zM268.72 103.53a1.45 1.45 0 1 0 2.9 0a1.45 1.45 0 1 0 -2.9 0zM268.53 104.41a1.45 1.45 0 1 0 2.9 0a1.45 1.45 0 1 0 -2.9 0zM268.32 105.28a1.45 1.45 0 1 0 2.9 0a1.45 1.45 0 1 0 -2.9 0zM268.08 106.15a1.45 1.45 0 1 0 2.9 0a1.45 1.45 0 1 0 -2.9 0zM267.82 107.01a1.45 1.45 0 1 0 2.9 0a1.45 1.45 0 1 0 -2.9 0zM267.55 107.87a1.45 1.45 0 1 0 2.9 0a1.45 1.45 0 1 0 -2.9 0zM267.27 108.73a1.45 1.45 0 1 0 2.9 0a1.45 1.45 0 1 0 -2.9 0zM266.99 109.58a1.45 1.45 0 1 0 2.9 0a1.45 1.45 0 1 0 -2.9 0zM266.69 110.43a1.45 1.45 0 1 0 2.9 0a1.45 1.45 0 1 0 -2.9 0zM266.38 111.27a1.45 1.45 0 1 0 2.9 0a1.45 1.45 0 1 0 -2.9 0zM266.05 112.11a1.45 1.45 0 1 0 2.9 0a1.45 1.45 0 1 0 -2.9 0zM265.71 112.94a1.45 1.45 0 1 0 2.9 0a1.45 1.45 0 1 0 -2.9 0zM265.34 113.76a1.45 1.45 0 1 0 2.9 0a1.45 1.45 0 1 0 -2.9 0zM264.95 114.57a1.45 1.45 0 1 0 2.9 0a1.45 1.45 0 1 0 -2.9 0zM264.53 115.37a1.45 1.45 0 1 0 2.9 0a1.45 1.45 0 1 0 -2.9 0zM264.09 116.16a1.45 1.45 0 1 0 2.9 0a1.45 1.45 0 1 0 -2.9 0zM263.63 116.93a1.45 1.45 0 1 0 2.9 0a1.45 1.45 0 1 0 -2.9 0zM263.16 117.7a1.45 1.45 0 1 0 2.9 0a1.45 1.45 0 1 0 -2.9 0zM262.67 118.45a1.45 1.45 0 1 0 2.9 0a1.45 1.45 0 1 0 -2.9 0zM262.17 119.2a1.45 1.45 0 1 0 2.9 0a1.45 1.45 0 1 0 -2.9 0zM261.64 119.93a1.45 1.45 0 1 0 2.9 0a1.45 1.45 0 1 0 -2.9 0zM261.11 120.65a1.45 1.45 0 1 0 2.9 0a1.45 1.45 0 1 0 -2.9 0zM260.56 121.37a1.45 1.45 0 1 0 2.9 0a1.45 1.45 0 1 0 -2.9 0zM259.99 122.07a1.45 1.45 0 1 0 2.9 0a1.45 1.45 0 1 0 -2.9 0zM259.42 122.76a1.45 1.45 0 1 0 2.9 0a1.45 1.45 0 1 0 -2.9 0zM258.83 123.44a1.45 1.45 0 1 0 2.9 0a1.45 1.45 0 1 0 -2.9 0zM258.23 124.11a1.45 1.45 0 1 0 2.9 0a1.45 1.45 0 1 0 -2.9 0zM257.62 124.77a1.45 1.45 0 1 0 2.9 0a1.45 1.45 0 1 0 -2.9 0zM257 125.43a1.45 1.45 0 1 0 2.9 0a1.45 1.45 0 1 0 -2.9 0zM256.38 126.08a1.45 1.45 0 1 0 2.9 0a1.45 1.45 0 1 0 -2.9 0zM255.74 126.71a1.45 1.45 0 1 0 2.9 0a1.45 1.45 0 1 0 -2.9 0zM255.09 127.34a1.45 1.45 0 1 0 2.9 0a1.45 1.45 0 1 0 -2.9 0zM254.44 127.95a1.45 1.45 0 1 0 2.9 0a1.45 1.45 0 1 0 -2.9 0zM253.77 128.55a1.45 1.45 0 1 0 2.9 0a1.45 1.45 0 1 0 -2.9 0zM253.08 129.14a1.45 1.45 0 1 0 2.9 0a1.45 1.45 0 1 0 -2.9 0zM252.39 129.71a1.45 1.45 0 1 0 2.9 0a1.45 1.45 0 1 0 -2.9 0zM251.68 130.26a1.45 1.45 0 1 0 2.9 0a1.45 1.45 0 1 0 -2.9 0zM250.95 130.79a1.45 1.45 0 1 0 2.9 0a1.45 1.45 0 1 0 -2.9 0zM250.21 131.31a1.45 1.45 0 1 0 2.9 0a1.45 1.45 0 1 0 -2.9 0zM249.47 131.81a1.45 1.45 0 1 0 2.9 0a1.45 1.45 0 1 0 -2.9 0zM248.71 132.3a1.45 1.45 0 1 0 2.9 0a1.45 1.45 0 1 0 -2.9 0zM247.95 132.79a1.45 1.45 0 1 0 2.9 0a1.45 1.45 0 1 0 -2.9 0zM247.19 133.26a1.45 1.45 0 1 0 2.9 0a1.45 1.45 0 1 0 -2.9 0zM246.42 133.74a1.45 1.45 0 1 0 2.9 0a1.45 1.45 0 1 0 -2.9 0zM245.66 134.2a1.45 1.45 0 1 0 2.9 0a1.45 1.45 0 1 0 -2.9 0zM244.89 134.67a1.45 1.45 0 1 0 2.9 0a1.45 1.45 0 1 0 -2.9 0zM244.12 135.14a1.45 1.45 0 1 0 2.9 0a1.45 1.45 0 1 0 -2.9 0zM243.35 135.6a1.45 1.45 0 1 0 2.9 0a1.45 1.45 0 1 0 -2.9 0zM242.57 136.05a1.45 1.45 0 1 0 2.9 0a1.45 1.45 0 1 0 -2.9 0zM241.78 136.5a1.45 1.45 0 1 0 2.9 0a1.45 1.45 0 1 0 -2.9 0zM241 136.94a1.45 1.45 0 1 0 2.9 0a1.45 1.45 0 1 0 -2.9 0zM240.21 137.37a1.45 1.45 0 1 0 2.9 0a1.45 1.45 0 1 0 -2.9 0zM239.42 137.79a1.45 1.45 0 1 0 2.9 0a1.45 1.45 0 1 0 -2.9 0zM238.62 138.22a1.45 1.45 0 1 0 2.9 0a1.45 1.45 0 1 0 -2.9 0zM237.83 138.64a1.45 1.45 0 1 0 2.9 0a1.45 1.45 0 1 0 -2.9 0zM237.03 139.06a1.45 1.45 0 1 0 2.9 0a1.45 1.45 0 1 0 -2.9 0zM236.23 139.47a1.45 1.45 0 1 0 2.9 0a1.45 1.45 0 1 0 -2.9 0zM235.39 139.78a1.45 1.45 0 1 0 2.9 0a1.45 1.45 0 1 0 -2.9 0z" fill="none" stroke="#4f9dbf" stroke-width="0.9"/>
<path d="M201 38.6L204.99 38.73L210.43 38.91L216.92 39.13L224.06 39.36L231.44 39.61L238.66 39.86L245.32 40.09L251 40.3L255.83 40.49L260.23 40.67L264.28 40.84L268.06 41.01L271.65 41.18L275.12 41.35L278.54 41.52L282 41.7L285.45 41.88L288.81 42.07L292.08 42.26L295.25 42.45L298.33 42.64L301.31 42.83L304.2 43.02L307 43.2L309.7 43.38L312.31 43.54L314.81 43.71L317.23 43.87L319.56 44.04L321.79 44.21L323.94 44.4L326 44.6L328.03 44.83L330.04 45.1L331.99 45.39L333.84 45.69L335.54 45.97L337.04 46.23L338.31 46.44L339.3 46.6" fill="none" stroke="#8f9196" stroke-width="1.6" stroke-dasharray="4.4 1.9"/>
<path d="M213.2 37.2l1.9 1.9l-1.9 1.9l-1.9 -1.9zM251.3 38.4l1.9 1.9l-1.9 1.9l-1.9 -1.9zM282.4 39.8l1.9 1.9l-1.9 1.9l-1.9 -1.9z" fill="none" stroke="#8f9196" stroke-width="1"/>
<path d="M305.3 41.5h3.2v3.2h-3.2z" fill="none" stroke="#8f9196" stroke-width="1"/>
<path d="M326.2 42.2l2.2 3.74h-4.4z" fill="none" stroke="#8f9196" stroke-width="1"/>
<path d="M236.6 136.6l2.4 2.4l-2.4 2.4l-2.4 -2.4zM241.77 135.45l2.4 2.4l-2.4 2.4l-2.4 -2.4zM246.73 134.32l2.4 2.4l-2.4 2.4l-2.4 -2.4zM251.5 133.25l2.4 2.4l-2.4 2.4l-2.4 -2.4zM255.98 131.87l2.4 2.4l-2.4 2.4l-2.4 -2.4zM260.27 130.5l2.4 2.4l-2.4 2.4l-2.4 -2.4zM264.4 129.2l2.4 2.4l-2.4 2.4l-2.4 -2.4zM268.3 127.78l2.4 2.4l-2.4 2.4l-2.4 -2.4zM272.1 126.59l2.4 2.4l-2.4 2.4l-2.4 -2.4zM275.72 125.31l2.4 2.4l-2.4 2.4l-2.4 -2.4zM279.17 123.98l2.4 2.4l-2.4 2.4l-2.4 -2.4zM282.43 122.54l2.4 2.4l-2.4 2.4l-2.4 -2.4zM285.56 121.13l2.4 2.4l-2.4 2.4l-2.4 -2.4zM288.56 119.74l2.4 2.4l-2.4 2.4l-2.4 -2.4zM291.42 118.36l2.4 2.4l-2.4 2.4l-2.4 -2.4zM294.16 116.97l2.4 2.4l-2.4 2.4l-2.4 -2.4zM296.79 115.63l2.4 2.4l-2.4 2.4l-2.4 -2.4zM299.34 114.38l2.4 2.4l-2.4 2.4l-2.4 -2.4zM301.82 113.22l2.4 2.4l-2.4 2.4l-2.4 -2.4zM304.22 112.13l2.4 2.4l-2.4 2.4l-2.4 -2.4zM306.54 111.1l2.4 2.4l-2.4 2.4l-2.4 -2.4zM308.78 110.1l2.4 2.4l-2.4 2.4l-2.4 -2.4zM310.93 109.13l2.4 2.4l-2.4 2.4l-2.4 -2.4zM313 108.2l2.4 2.4l-2.4 2.4l-2.4 -2.4zM315 107.31l2.4 2.4l-2.4 2.4l-2.4 -2.4zM316.93 106.46l2.4 2.4l-2.4 2.4l-2.4 -2.4zM318.79 105.66l2.4 2.4l-2.4 2.4l-2.4 -2.4zM320.6 104.92l2.4 2.4l-2.4 2.4l-2.4 -2.4zM322.35 104.24l2.4 2.4l-2.4 2.4l-2.4 -2.4zM324.04 103.58l2.4 2.4l-2.4 2.4l-2.4 -2.4zM325.66 102.94l2.4 2.4l-2.4 2.4l-2.4 -2.4zM327.22 102.31l2.4 2.4l-2.4 2.4l-2.4 -2.4zM328.71 101.66l2.4 2.4l-2.4 2.4l-2.4 -2.4zM330.13 101.01l2.4 2.4l-2.4 2.4l-2.4 -2.4zM331.48 100.37l2.4 2.4l-2.4 2.4l-2.4 -2.4zM332.78 99.74l2.4 2.4l-2.4 2.4l-2.4 -2.4zM334.04 99.12l2.4 2.4l-2.4 2.4l-2.4 -2.4zM335.24 98.52l2.4 2.4l-2.4 2.4l-2.4 -2.4zM336.39 97.95l2.4 2.4l-2.4 2.4l-2.4 -2.4zM337.5 97.4l2.4 2.4l-2.4 2.4l-2.4 -2.4z" fill="#8f9196"/>
<text x="205.8" y="18.5" class="ti">(<tspan font-style="italic">b</tspan>) <tspan font-style="italic" dx="-0.9">T</tspan><tspan dx="1.2">=</tspan><tspan dx="0.7" letter-spacing="0.6">0.4</tspan></text>
<text x="0" y="0" transform="translate(203.1 132.8) scale(0.78 1)" class="xn"><tspan font-style="italic">&#x1E8B;</tspan><tspan dx="0.6">&lt;</tspan><tspan dx="0.8">0</tspan></text>
<path d="M367.65 60.05h3.5v3.5h-3.5zM369.88 61.39h3.5v3.5h-3.5zM372.07 62.68h3.5v3.5h-3.5zM374.26 63.87h3.5v3.5h-3.5zM376.42 65.01h3.5v3.5h-3.5zM378.45 66.25h3.5v3.5h-3.5zM380.27 67.71h3.5v3.5h-3.5zM382.1 69.07h3.5v3.5h-3.5zM383.84 70.42h3.5v3.5h-3.5zM385.46 71.81h3.5v3.5h-3.5zM386.98 73.21h3.5v3.5h-3.5zM388.41 74.61h3.5v3.5h-3.5zM389.77 75.98h3.5v3.5h-3.5zM391.04 77.36h3.5v3.5h-3.5zM392.22 78.74h3.5v3.5h-3.5zM393.34 80.09h3.5v3.5h-3.5zM394.3 81.49h3.5v3.5h-3.5zM395.13 82.94h3.5v3.5h-3.5zM395.87 84.39h3.5v3.5h-3.5zM396.57 85.82h3.5v3.5h-3.5zM397.24 87.23h3.5v3.5h-3.5zM397.87 88.62h3.5v3.5h-3.5zM398.46 89.99h3.5v3.5h-3.5zM399.03 91.34h3.5v3.5h-3.5zM399.54 92.67h3.5v3.5h-3.5zM400.01 93.99h3.5v3.5h-3.5zM400.44 95.3h3.5v3.5h-3.5zM400.81 96.59h3.5v3.5h-3.5zM401.15 97.85h3.5v3.5h-3.5zM401.45 99.1h3.5v3.5h-3.5zM401.72 100.33h3.5v3.5h-3.5zM401.94 101.54h3.5v3.5h-3.5zM402.13 102.73h3.5v3.5h-3.5zM402.29 103.92h3.5v3.5h-3.5zM402.43 105.09h3.5v3.5h-3.5zM402.57 106.25h3.5v3.5h-3.5zM402.71 107.41h3.5v3.5h-3.5zM402.84 108.56h3.5v3.5h-3.5zM402.96 109.7h3.5v3.5h-3.5zM403.05 110.83h3.5v3.5h-3.5zM403.12 111.95h3.5v3.5h-3.5zM403.16 113.07h3.5v3.5h-3.5zM403.16 114.18h3.5v3.5h-3.5zM403.11 115.28h3.5v3.5h-3.5zM403.03 116.37h3.5v3.5h-3.5zM402.91 117.44h3.5v3.5h-3.5zM402.77 118.51h3.5v3.5h-3.5zM402.6 119.56h3.5v3.5h-3.5zM402.42 120.6h3.5v3.5h-3.5zM402.23 121.63h3.5v3.5h-3.5zM402.02 122.65h3.5v3.5h-3.5zM401.81 123.66h3.5v3.5h-3.5zM401.59 124.66h3.5v3.5h-3.5zM401.34 125.65h3.5v3.5h-3.5zM401.07 126.62h3.5v3.5h-3.5zM400.8 127.58h3.5v3.5h-3.5zM400.51 128.53h3.5v3.5h-3.5zM400.23 129.47h3.5v3.5h-3.5zM399.95 130.4h3.5v3.5h-3.5zM399.67 131.33h3.5v3.5h-3.5zM399.42 132.26h3.5v3.5h-3.5zM399.19 133.18h3.5v3.5h-3.5zM399 134.11h3.5v3.5h-3.5zM398.86 135.03h3.5v3.5h-3.5zM398.75 135.96h3.5v3.5h-3.5zM398.67 136.88h3.5v3.5h-3.5zM398.62 137.79h3.5v3.5h-3.5zM398.56 138.69h3.5v3.5h-3.5z" fill="none" stroke="#e9303a" stroke-width="0.9"/>
<path d="M369.6 45.4a1.8 1.8 0 1 0 3.6 0a1.8 1.8 0 1 0 -3.6 0zM374.2 47.1a1.8 1.8 0 1 0 3.6 0a1.8 1.8 0 1 0 -3.6 0zM378.4 48.4a1.8 1.8 0 1 0 3.6 0a1.8 1.8 0 1 0 -3.6 0zM382.2 49.9a1.8 1.8 0 1 0 3.6 0a1.8 1.8 0 1 0 -3.6 0zM385.6 51.5a1.8 1.8 0 1 0 3.6 0a1.8 1.8 0 1 0 -3.6 0zM388.6 53a1.8 1.8 0 1 0 3.6 0a1.8 1.8 0 1 0 -3.6 0zM391.4 54.5a1.8 1.8 0 1 0 3.6 0a1.8 1.8 0 1 0 -3.6 0z" fill="none" stroke="#4f9dbf" stroke-width="0.9"/>
<path d="M394.15 56a1.45 1.45 0 1 0 2.9 0a1.45 1.45 0 1 0 -2.9 0zM396.06 57.46a1.45 1.45 0 1 0 2.9 0a1.45 1.45 0 1 0 -2.9 0zM397.91 58.88a1.45 1.45 0 1 0 2.9 0a1.45 1.45 0 1 0 -2.9 0zM399.68 60.3a1.45 1.45 0 1 0 2.9 0a1.45 1.45 0 1 0 -2.9 0zM401.36 61.74a1.45 1.45 0 1 0 2.9 0a1.45 1.45 0 1 0 -2.9 0zM402.94 63.21a1.45 1.45 0 1 0 2.9 0a1.45 1.45 0 1 0 -2.9 0zM404.44 64.68a1.45 1.45 0 1 0 2.9 0a1.45 1.45 0 1 0 -2.9 0zM405.84 66.16a1.45 1.45 0 1 0 2.9 0a1.45 1.45 0 1 0 -2.9 0zM407.15 67.65a1.45 1.45 0 1 0 2.9 0a1.45 1.45 0 1 0 -2.9 0zM408.38 69.15a1.45 1.45 0 1 0 2.9 0a1.45 1.45 0 1 0 -2.9 0zM409.48 70.66a1.45 1.45 0 1 0 2.9 0a1.45 1.45 0 1 0 -2.9 0zM410.44 72.19a1.45 1.45 0 1 0 2.9 0a1.45 1.45 0 1 0 -2.9 0zM411.24 73.73a1.45 1.45 0 1 0 2.9 0a1.45 1.45 0 1 0 -2.9 0zM411.89 75.27a1.45 1.45 0 1 0 2.9 0a1.45 1.45 0 1 0 -2.9 0zM412.39 76.8a1.45 1.45 0 1 0 2.9 0a1.45 1.45 0 1 0 -2.9 0zM412.77 78.3a1.45 1.45 0 1 0 2.9 0a1.45 1.45 0 1 0 -2.9 0zM413.04 79.77a1.45 1.45 0 1 0 2.9 0a1.45 1.45 0 1 0 -2.9 0zM413.24 81.19a1.45 1.45 0 1 0 2.9 0a1.45 1.45 0 1 0 -2.9 0zM413.38 82.57a1.45 1.45 0 1 0 2.9 0a1.45 1.45 0 1 0 -2.9 0zM413.47 83.9a1.45 1.45 0 1 0 2.9 0a1.45 1.45 0 1 0 -2.9 0zM413.47 85.18a1.45 1.45 0 1 0 2.9 0a1.45 1.45 0 1 0 -2.9 0zM413.39 86.41a1.45 1.45 0 1 0 2.9 0a1.45 1.45 0 1 0 -2.9 0zM413.28 87.6a1.45 1.45 0 1 0 2.9 0a1.45 1.45 0 1 0 -2.9 0zM413.17 88.77a1.45 1.45 0 1 0 2.9 0a1.45 1.45 0 1 0 -2.9 0zM413.07 89.92a1.45 1.45 0 1 0 2.9 0a1.45 1.45 0 1 0 -2.9 0zM412.98 91.05a1.45 1.45 0 1 0 2.9 0a1.45 1.45 0 1 0 -2.9 0zM412.87 92.17a1.45 1.45 0 1 0 2.9 0a1.45 1.45 0 1 0 -2.9 0zM412.74 93.26a1.45 1.45 0 1 0 2.9 0a1.45 1.45 0 1 0 -2.9 0zM412.59 94.34a1.45 1.45 0 1 0 2.9 0a1.45 1.45 0 1 0 -2.9 0zM412.42 95.39a1.45 1.45 0 1 0 2.9 0a1.45 1.45 0 1 0 -2.9 0zM412.24 96.43a1.45 1.45 0 1 0 2.9 0a1.45 1.45 0 1 0 -2.9 0zM412.06 97.44a1.45 1.45 0 1 0 2.9 0a1.45 1.45 0 1 0 -2.9 0zM411.88 98.44a1.45 1.45 0 1 0 2.9 0a1.45 1.45 0 1 0 -2.9 0zM411.69 99.43a1.45 1.45 0 1 0 2.9 0a1.45 1.45 0 1 0 -2.9 0zM411.5 100.39a1.45 1.45 0 1 0 2.9 0a1.45 1.45 0 1 0 -2.9 0zM411.3 101.34a1.45 1.45 0 1 0 2.9 0a1.45 1.45 0 1 0 -2.9 0zM411.1 102.27a1.45 1.45 0 1 0 2.9 0a1.45 1.45 0 1 0 -2.9 0zM410.89 103.19a1.45 1.45 0 1 0 2.9 0a1.45 1.45 0 1 0 -2.9 0zM410.68 104.08a1.45 1.45 0 1 0 2.9 0a1.45 1.45 0 1 0 -2.9 0zM410.46 104.96a1.45 1.45 0 1 0 2.9 0a1.45 1.45 0 1 0 -2.9 0zM410.23 105.84a1.45 1.45 0 1 0 2.9 0a1.45 1.45 0 1 0 -2.9 0zM410 106.71a1.45 1.45 0 1 0 2.9 0a1.45 1.45 0 1 0 -2.9 0zM409.77 107.58a1.45 1.45 0 1 0 2.9 0a1.45 1.45 0 1 0 -2.9 0zM409.53 108.44a1.45 1.45 0 1 0 2.9 0a1.45 1.45 0 1 0 -2.9 0zM409.29 109.31a1.45 1.45 0 1 0 2.9 0a1.45 1.45 0 1 0 -2.9 0zM409.04 110.18a1.45 1.45 0 1 0 2.9 0a1.45 1.45 0 1 0 -2.9 0zM408.79 111.04a1.45 1.45 0 1 0 2.9 0a1.45 1.45 0 1 0 -2.9 0zM408.54 111.9a1.45 1.45 0 1 0 2.9 0a1.45 1.45 0 1 0 -2.9 0zM408.28 112.76a1.45 1.45 0 1 0 2.9 0a1.45 1.45 0 1 0 -2.9 0zM408.01 113.63a1.45 1.45 0 1 0 2.9 0a1.45 1.45 0 1 0 -2.9 0zM407.74 114.48a1.45 1.45 0 1 0 2.9 0a1.45 1.45 0 1 0 -2.9 0zM407.47 115.34a1.45 1.45 0 1 0 2.9 0a1.45 1.45 0 1 0 -2.9 0zM407.18 116.2a1.45 1.45 0 1 0 2.9 0a1.45 1.45 0 1 0 -2.9 0zM406.89 117.05a1.45 1.45 0 1 0 2.9 0a1.45 1.45 0 1 0 -2.9 0zM406.58 117.89a1.45 1.45 0 1 0 2.9 0a1.45 1.45 0 1 0 -2.9 0zM406.25 118.73a1.45 1.45 0 1 0 2.9 0a1.45 1.45 0 1 0 -2.9 0zM405.91 119.56a1.45 1.45 0 1 0 2.9 0a1.45 1.45 0 1 0 -2.9 0zM405.55 120.39a1.45 1.45 0 1 0 2.9 0a1.45 1.45 0 1 0 -2.9 0zM405.2 121.22a1.45 1.45 0 1 0 2.9 0a1.45 1.45 0 1 0 -2.9 0zM404.85 122.04a1.45 1.45 0 1 0 2.9 0a1.45 1.45 0 1 0 -2.9 0zM404.5 122.87a1.45 1.45 0 1 0 2.9 0a1.45 1.45 0 1 0 -2.9 0zM404.16 123.71a1.45 1.45 0 1 0 2.9 0a1.45 1.45 0 1 0 -2.9 0zM403.85 124.55a1.45 1.45 0 1 0 2.9 0a1.45 1.45 0 1 0 -2.9 0zM403.55 125.4a1.45 1.45 0 1 0 2.9 0a1.45 1.45 0 1 0 -2.9 0zM403.28 126.26a1.45 1.45 0 1 0 2.9 0a1.45 1.45 0 1 0 -2.9 0zM403.03 127.12a1.45 1.45 0 1 0 2.9 0a1.45 1.45 0 1 0 -2.9 0zM402.79 127.99a1.45 1.45 0 1 0 2.9 0a1.45 1.45 0 1 0 -2.9 0zM402.57 128.86a1.45 1.45 0 1 0 2.9 0a1.45 1.45 0 1 0 -2.9 0zM402.35 129.74a1.45 1.45 0 1 0 2.9 0a1.45 1.45 0 1 0 -2.9 0zM402.15 130.61a1.45 1.45 0 1 0 2.9 0a1.45 1.45 0 1 0 -2.9 0zM401.95 131.49a1.45 1.45 0 1 0 2.9 0a1.45 1.45 0 1 0 -2.9 0zM401.75 132.37a1.45 1.45 0 1 0 2.9 0a1.45 1.45 0 1 0 -2.9 0zM401.56 133.25a1.45 1.45 0 1 0 2.9 0a1.45 1.45 0 1 0 -2.9 0zM401.37 134.13a1.45 1.45 0 1 0 2.9 0a1.45 1.45 0 1 0 -2.9 0zM401.17 135.01a1.45 1.45 0 1 0 2.9 0a1.45 1.45 0 1 0 -2.9 0zM400.97 135.88a1.45 1.45 0 1 0 2.9 0a1.45 1.45 0 1 0 -2.9 0zM400.78 136.76a1.45 1.45 0 1 0 2.9 0a1.45 1.45 0 1 0 -2.9 0zM400.6 137.65a1.45 1.45 0 1 0 2.9 0a1.45 1.45 0 1 0 -2.9 0zM400.43 138.53a1.45 1.45 0 1 0 2.9 0a1.45 1.45 0 1 0 -2.9 0zM400.26 139.41a1.45 1.45 0 1 0 2.9 0a1.45 1.45 0 1 0 -2.9 0zM400.09 140.3a1.45 1.45 0 1 0 2.9 0a1.45 1.45 0 1 0 -2.9 0z" fill="none" stroke="#4f9dbf" stroke-width="0.9"/>
<path d="M373 33l1.9 1.9l-1.9 1.9l-1.9 -1.9zM382.9 34.4l1.9 1.9l-1.9 1.9l-1.9 -1.9zM391.5 35.8l1.9 1.9l-1.9 1.9l-1.9 -1.9zM398.7 37.1l1.9 1.9l-1.9 1.9l-1.9 -1.9zM404.3 38.3l1.9 1.9l-1.9 1.9l-1.9 -1.9zM409.9 39.9l1.9 1.9l-1.9 1.9l-1.9 -1.9zM414.3 40.8l1.9 1.9l-1.9 1.9l-1.9 -1.9zM418.4 42.4l1.9 1.9l-1.9 1.9l-1.9 -1.9zM421.7 43.6l1.9 1.9l-1.9 1.9l-1.9 -1.9zM424.9 45.3l1.9 1.9l-1.9 1.9l-1.9 -1.9zM427.6 46.8l1.9 1.9l-1.9 1.9l-1.9 -1.9z" fill="none" stroke="#8f9196" stroke-width="0.9"/>
<path d="M430.4 48.6l1.9 1.9l-1.9 1.9l-1.9 -1.9zM432 50.11l1.9 1.9l-1.9 1.9l-1.9 -1.9zM433.4 51.46l1.9 1.9l-1.9 1.9l-1.9 -1.9zM434.57 52.72l1.9 1.9l-1.9 1.9l-1.9 -1.9zM435.52 53.91l1.9 1.9l-1.9 1.9l-1.9 -1.9zM436.31 55l1.9 1.9l-1.9 1.9l-1.9 -1.9zM436.94 56l1.9 1.9l-1.9 1.9l-1.9 -1.9zM437.44 56.93l1.9 1.9l-1.9 1.9l-1.9 -1.9zM437.83 57.83l1.9 1.9l-1.9 1.9l-1.9 -1.9zM438.17 58.71l1.9 1.9l-1.9 1.9l-1.9 -1.9zM438.48 59.58l1.9 1.9l-1.9 1.9l-1.9 -1.9zM438.75 60.43l1.9 1.9l-1.9 1.9l-1.9 -1.9zM438.98 61.3l1.9 1.9l-1.9 1.9l-1.9 -1.9zM439.17 62.18l1.9 1.9l-1.9 1.9l-1.9 -1.9zM439.29 63.08l1.9 1.9l-1.9 1.9l-1.9 -1.9zM439.37 63.97l1.9 1.9l-1.9 1.9l-1.9 -1.9zM439.4 64.87l1.9 1.9l-1.9 1.9l-1.9 -1.9zM439.39 65.77l1.9 1.9l-1.9 1.9l-1.9 -1.9zM439.35 66.67l1.9 1.9l-1.9 1.9l-1.9 -1.9zM439.29 67.57l1.9 1.9l-1.9 1.9l-1.9 -1.9zM439.22 68.47l1.9 1.9l-1.9 1.9l-1.9 -1.9zM439.13 69.36l1.9 1.9l-1.9 1.9l-1.9 -1.9zM439.03 70.26l1.9 1.9l-1.9 1.9l-1.9 -1.9zM438.92 71.15l1.9 1.9l-1.9 1.9l-1.9 -1.9zM438.79 72.04l1.9 1.9l-1.9 1.9l-1.9 -1.9zM438.65 72.93l1.9 1.9l-1.9 1.9l-1.9 -1.9zM438.49 73.81l1.9 1.9l-1.9 1.9l-1.9 -1.9zM438.32 74.7l1.9 1.9l-1.9 1.9l-1.9 -1.9zM438.13 75.58l1.9 1.9l-1.9 1.9l-1.9 -1.9zM437.91 76.45l1.9 1.9l-1.9 1.9l-1.9 -1.9zM437.68 77.32l1.9 1.9l-1.9 1.9l-1.9 -1.9zM437.42 78.18l1.9 1.9l-1.9 1.9l-1.9 -1.9zM437.13 79.04l1.9 1.9l-1.9 1.9l-1.9 -1.9zM436.83 79.88l1.9 1.9l-1.9 1.9l-1.9 -1.9zM436.49 80.72l1.9 1.9l-1.9 1.9l-1.9 -1.9zM436.14 81.54l1.9 1.9l-1.9 1.9l-1.9 -1.9zM435.76 82.36l1.9 1.9l-1.9 1.9l-1.9 -1.9zM435.36 83.17l1.9 1.9l-1.9 1.9l-1.9 -1.9zM434.94 83.96l1.9 1.9l-1.9 1.9l-1.9 -1.9zM434.5 84.75l1.9 1.9l-1.9 1.9l-1.9 -1.9zM434.06 85.53l1.9 1.9l-1.9 1.9l-1.9 -1.9zM433.6 86.31l1.9 1.9l-1.9 1.9l-1.9 -1.9zM433.12 87.07l1.9 1.9l-1.9 1.9l-1.9 -1.9zM432.62 87.82l1.9 1.9l-1.9 1.9l-1.9 -1.9zM432.1 88.55l1.9 1.9l-1.9 1.9l-1.9 -1.9zM431.56 89.27l1.9 1.9l-1.9 1.9l-1.9 -1.9zM431.02 89.99l1.9 1.9l-1.9 1.9l-1.9 -1.9zM430.46 90.7l1.9 1.9l-1.9 1.9l-1.9 -1.9zM429.9 91.4l1.9 1.9l-1.9 1.9l-1.9 -1.9zM429.34 92.1l1.9 1.9l-1.9 1.9l-1.9 -1.9zM428.77 92.81l1.9 1.9l-1.9 1.9l-1.9 -1.9zM428.21 93.51l1.9 1.9l-1.9 1.9l-1.9 -1.9zM427.65 94.21l1.9 1.9l-1.9 1.9l-1.9 -1.9zM427.1 94.92l1.9 1.9l-1.9 1.9l-1.9 -1.9zM426.55 95.64l1.9 1.9l-1.9 1.9l-1.9 -1.9zM426.01 96.36l1.9 1.9l-1.9 1.9l-1.9 -1.9zM425.47 97.08l1.9 1.9l-1.9 1.9l-1.9 -1.9zM424.93 97.8l1.9 1.9l-1.9 1.9l-1.9 -1.9zM424.4 98.52l1.9 1.9l-1.9 1.9l-1.9 -1.9zM423.86 99.24l1.9 1.9l-1.9 1.9l-1.9 -1.9zM423.33 99.97l1.9 1.9l-1.9 1.9l-1.9 -1.9zM422.79 100.69l1.9 1.9l-1.9 1.9l-1.9 -1.9zM422.25 101.41l1.9 1.9l-1.9 1.9l-1.9 -1.9zM421.72 102.14l1.9 1.9l-1.9 1.9l-1.9 -1.9zM421.18 102.86l1.9 1.9l-1.9 1.9l-1.9 -1.9zM420.64 103.58l1.9 1.9l-1.9 1.9l-1.9 -1.9zM420.1 104.3l1.9 1.9l-1.9 1.9l-1.9 -1.9zM419.56 105.02l1.9 1.9l-1.9 1.9l-1.9 -1.9zM419.01 105.73l1.9 1.9l-1.9 1.9l-1.9 -1.9zM418.46 106.44l1.9 1.9l-1.9 1.9l-1.9 -1.9zM417.9 107.15l1.9 1.9l-1.9 1.9l-1.9 -1.9zM417.34 107.85l1.9 1.9l-1.9 1.9l-1.9 -1.9zM416.77 108.55l1.9 1.9l-1.9 1.9l-1.9 -1.9zM416.21 109.25l1.9 1.9l-1.9 1.9l-1.9 -1.9zM415.64 109.95l1.9 1.9l-1.9 1.9l-1.9 -1.9zM415.09 110.66l1.9 1.9l-1.9 1.9l-1.9 -1.9zM414.54 111.37l1.9 1.9l-1.9 1.9l-1.9 -1.9zM413.99 112.09l1.9 1.9l-1.9 1.9l-1.9 -1.9zM413.47 112.82l1.9 1.9l-1.9 1.9l-1.9 -1.9zM412.95 113.56l1.9 1.9l-1.9 1.9l-1.9 -1.9zM412.46 114.31l1.9 1.9l-1.9 1.9l-1.9 -1.9zM411.99 115.08l1.9 1.9l-1.9 1.9l-1.9 -1.9zM411.54 115.86l1.9 1.9l-1.9 1.9l-1.9 -1.9zM411.11 116.65l1.9 1.9l-1.9 1.9l-1.9 -1.9zM410.7 117.45l1.9 1.9l-1.9 1.9l-1.9 -1.9zM410.3 118.25l1.9 1.9l-1.9 1.9l-1.9 -1.9zM409.91 119.06l1.9 1.9l-1.9 1.9l-1.9 -1.9zM409.53 119.88l1.9 1.9l-1.9 1.9l-1.9 -1.9zM409.15 120.7l1.9 1.9l-1.9 1.9l-1.9 -1.9zM408.78 121.52l1.9 1.9l-1.9 1.9l-1.9 -1.9zM408.4 122.33l1.9 1.9l-1.9 1.9l-1.9 -1.9zM408.02 123.15l1.9 1.9l-1.9 1.9l-1.9 -1.9zM407.62 123.96l1.9 1.9l-1.9 1.9l-1.9 -1.9zM407.22 124.76l1.9 1.9l-1.9 1.9l-1.9 -1.9zM406.81 125.57l1.9 1.9l-1.9 1.9l-1.9 -1.9zM406.41 126.37l1.9 1.9l-1.9 1.9l-1.9 -1.9zM406 127.17l1.9 1.9l-1.9 1.9l-1.9 -1.9zM405.6 127.98l1.9 1.9l-1.9 1.9l-1.9 -1.9zM405.2 128.78l1.9 1.9l-1.9 1.9l-1.9 -1.9zM404.81 129.59l1.9 1.9l-1.9 1.9l-1.9 -1.9zM404.42 130.41l1.9 1.9l-1.9 1.9l-1.9 -1.9zM404.05 131.23l1.9 1.9l-1.9 1.9l-1.9 -1.9zM403.7 132.06l1.9 1.9l-1.9 1.9l-1.9 -1.9zM403.36 132.89l1.9 1.9l-1.9 1.9l-1.9 -1.9zM403.02 133.72l1.9 1.9l-1.9 1.9l-1.9 -1.9zM402.7 134.56l1.9 1.9l-1.9 1.9l-1.9 -1.9zM402.38 135.41l1.9 1.9l-1.9 1.9l-1.9 -1.9zM402.07 136.25l1.9 1.9l-1.9 1.9l-1.9 -1.9zM401.76 137.09l1.9 1.9l-1.9 1.9l-1.9 -1.9zM401.47 137.95l1.9 1.9l-1.9 1.9l-1.9 -1.9zM401.3 138.6l1.9 1.9l-1.9 1.9l-1.9 -1.9z" fill="none" stroke="#8f9196" stroke-width="0.9"/>
<text x="371.1" y="18.5" class="ti">(<tspan font-style="italic">c</tspan>) <tspan font-style="italic" dx="-0.8">T</tspan><tspan dx="1.2">=</tspan><tspan dx="0.7" letter-spacing="0.6">0.6</tspan></text>
<text x="368.5" y="107.1" class="xn"><tspan font-style="italic">&#x1E8B;</tspan><tspan dx="0.6">&lt;</tspan><tspan dx="0.8">0</tspan></text>
<path d="M535.75 21.15h3.5v3.5h-3.5zM543.55 22.35h3.5v3.5h-3.5zM550.25 23.55h3.5v3.5h-3.5zM555.65 24.85h3.5v3.5h-3.5zM560.55 26.05h3.5v3.5h-3.5zM564.75 27.35h3.5v3.5h-3.5zM568.25 28.85h3.5v3.5h-3.5zM571.55 30.35h3.5v3.5h-3.5zM574.75 31.85h3.5v3.5h-3.5zM577.75 33.25h3.5v3.5h-3.5z" fill="none" stroke="#e9303a" stroke-width="0.9"/>
<path d="M580.45 34.75h3.5v3.5h-3.5zM582.15 36.14h3.5v3.5h-3.5zM583.69 37.44h3.5v3.5h-3.5zM585.02 38.68h3.5v3.5h-3.5zM586.14 39.92h3.5v3.5h-3.5zM587.09 41.1h3.5v3.5h-3.5zM587.92 42.2h3.5v3.5h-3.5zM588.64 43.24h3.5v3.5h-3.5zM589.27 44.24h3.5v3.5h-3.5zM589.85 45.26h3.5v3.5h-3.5zM590.35 46.29h3.5v3.5h-3.5zM590.76 47.34h3.5v3.5h-3.5zM591.08 48.4h3.5v3.5h-3.5zM591.35 49.46h3.5v3.5h-3.5zM591.58 50.5h3.5v3.5h-3.5zM591.79 51.53h3.5v3.5h-3.5zM591.98 52.54h3.5v3.5h-3.5zM592.16 53.54h3.5v3.5h-3.5zM592.31 54.52h3.5v3.5h-3.5zM592.43 55.49h3.5v3.5h-3.5zM592.51 56.45h3.5v3.5h-3.5zM592.55 57.39h3.5v3.5h-3.5zM592.54 58.32h3.5v3.5h-3.5zM592.51 59.22h3.5v3.5h-3.5zM592.43 60.12h3.5v3.5h-3.5zM592.33 61.01h3.5v3.5h-3.5zM592.18 61.9h3.5v3.5h-3.5zM592.01 62.79h3.5v3.5h-3.5zM591.8 63.66h3.5v3.5h-3.5zM591.57 64.53h3.5v3.5h-3.5zM591.31 65.39h3.5v3.5h-3.5zM591.03 66.25h3.5v3.5h-3.5zM590.73 67.1h3.5v3.5h-3.5zM590.42 67.94h3.5v3.5h-3.5zM590.1 68.78h3.5v3.5h-3.5zM589.78 69.62h3.5v3.5h-3.5zM589.45 70.46h3.5v3.5h-3.5zM589.12 71.3h3.5v3.5h-3.5zM588.79 72.14h3.5v3.5h-3.5zM588.46 72.97h3.5v3.5h-3.5zM588.1 73.8h3.5v3.5h-3.5zM587.73 74.62h3.5v3.5h-3.5zM587.35 75.44h3.5v3.5h-3.5zM586.99 76.26h3.5v3.5h-3.5zM586.65 77.09h3.5v3.5h-3.5zM586.35 77.94h3.5v3.5h-3.5zM586.09 78.8h3.5v3.5h-3.5zM585.89 79.68h3.5v3.5h-3.5zM585.72 80.56h3.5v3.5h-3.5zM585.57 81.45h3.5v3.5h-3.5zM585.42 82.34h3.5v3.5h-3.5zM585.25 83.22h3.5v3.5h-3.5zM585.05 84.1h3.5v3.5h-3.5zM584.82 84.97h3.5v3.5h-3.5zM584.56 85.83h3.5v3.5h-3.5zM584.26 86.68h3.5v3.5h-3.5zM583.95 87.53h3.5v3.5h-3.5zM583.63 88.37h3.5v3.5h-3.5zM583.3 89.2h3.5v3.5h-3.5zM582.97 90.04h3.5v3.5h-3.5zM582.62 90.87h3.5v3.5h-3.5zM582.28 91.7h3.5v3.5h-3.5zM581.93 92.53h3.5v3.5h-3.5zM581.58 93.36h3.5v3.5h-3.5zM581.22 94.19h3.5v3.5h-3.5zM580.87 95.02h3.5v3.5h-3.5zM580.52 95.84h3.5v3.5h-3.5zM580.17 96.67h3.5v3.5h-3.5zM579.82 97.5h3.5v3.5h-3.5zM579.46 98.33h3.5v3.5h-3.5zM579.11 99.16h3.5v3.5h-3.5zM578.74 99.98h3.5v3.5h-3.5zM578.38 100.8h3.5v3.5h-3.5zM578.02 101.63h3.5v3.5h-3.5zM577.65 102.45h3.5v3.5h-3.5zM577.29 103.27h3.5v3.5h-3.5zM576.92 104.09h3.5v3.5h-3.5zM576.56 104.92h3.5v3.5h-3.5zM576.2 105.74h3.5v3.5h-3.5zM575.84 106.57h3.5v3.5h-3.5zM575.49 107.4h3.5v3.5h-3.5zM575.13 108.22h3.5v3.5h-3.5zM574.77 109.05h3.5v3.5h-3.5zM574.41 109.87h3.5v3.5h-3.5zM574.06 110.7h3.5v3.5h-3.5zM573.72 111.53h3.5v3.5h-3.5zM573.38 112.37h3.5v3.5h-3.5zM573.05 113.2h3.5v3.5h-3.5zM572.73 114.04h3.5v3.5h-3.5zM572.41 114.89h3.5v3.5h-3.5zM572.11 115.73h3.5v3.5h-3.5zM571.8 116.58h3.5v3.5h-3.5zM571.5 117.43h3.5v3.5h-3.5zM571.21 118.28h3.5v3.5h-3.5zM570.91 119.13h3.5v3.5h-3.5zM570.62 119.98h3.5v3.5h-3.5zM570.34 120.84h3.5v3.5h-3.5zM570.06 121.69h3.5v3.5h-3.5zM569.78 122.55h3.5v3.5h-3.5zM569.51 123.41h3.5v3.5h-3.5zM569.25 124.27h3.5v3.5h-3.5zM568.99 125.13h3.5v3.5h-3.5zM568.73 125.99h3.5v3.5h-3.5zM568.49 126.86h3.5v3.5h-3.5zM568.25 127.73h3.5v3.5h-3.5zM568.02 128.6h3.5v3.5h-3.5zM567.79 129.47h3.5v3.5h-3.5zM567.56 130.34h3.5v3.5h-3.5zM567.34 131.21h3.5v3.5h-3.5zM567.13 132.08h3.5v3.5h-3.5zM566.92 132.96h3.5v3.5h-3.5zM566.72 133.84h3.5v3.5h-3.5zM566.53 134.72h3.5v3.5h-3.5zM566.37 135.6h3.5v3.5h-3.5zM566.21 136.49h3.5v3.5h-3.5zM566.07 137.38h3.5v3.5h-3.5zM565.93 138.27h3.5v3.5h-3.5zM565.85 138.75h3.5v3.5h-3.5z" fill="none" stroke="#e9303a" stroke-width="0.9"/>
<path d="M532.8 19.95a1.8 1.8 0 1 0 3.6 0a1.8 1.8 0 1 0 -3.6 0zM543.5 21.2a1.8 1.8 0 1 0 3.6 0a1.8 1.8 0 1 0 -3.6 0zM552.7 22.4a1.8 1.8 0 1 0 3.6 0a1.8 1.8 0 1 0 -3.6 0zM559.7 24.1a1.8 1.8 0 1 0 3.6 0a1.8 1.8 0 1 0 -3.6 0zM565.5 25.3a1.8 1.8 0 1 0 3.6 0a1.8 1.8 0 1 0 -3.6 0zM570.5 26.8a1.8 1.8 0 1 0 3.6 0a1.8 1.8 0 1 0 -3.6 0zM575.2 28.1a1.8 1.8 0 1 0 3.6 0a1.8 1.8 0 1 0 -3.6 0zM579.4 29.8a1.8 1.8 0 1 0 3.6 0a1.8 1.8 0 1 0 -3.6 0zM583.1 31.2a1.8 1.8 0 1 0 3.6 0a1.8 1.8 0 1 0 -3.6 0z" fill="none" stroke="#4f9dbf" stroke-width="0.9"/>
<path d="M586.55 33.1a1.45 1.45 0 1 0 2.9 0a1.45 1.45 0 1 0 -2.9 0zM588.3 34.43a1.45 1.45 0 1 0 2.9 0a1.45 1.45 0 1 0 -2.9 0zM589.88 35.63a1.45 1.45 0 1 0 2.9 0a1.45 1.45 0 1 0 -2.9 0zM591.27 36.73a1.45 1.45 0 1 0 2.9 0a1.45 1.45 0 1 0 -2.9 0zM592.49 37.77a1.45 1.45 0 1 0 2.9 0a1.45 1.45 0 1 0 -2.9 0zM593.52 38.77a1.45 1.45 0 1 0 2.9 0a1.45 1.45 0 1 0 -2.9 0zM594.38 39.74a1.45 1.45 0 1 0 2.9 0a1.45 1.45 0 1 0 -2.9 0zM595.11 40.65a1.45 1.45 0 1 0 2.9 0a1.45 1.45 0 1 0 -2.9 0zM595.72 41.49a1.45 1.45 0 1 0 2.9 0a1.45 1.45 0 1 0 -2.9 0zM596.27 42.31a1.45 1.45 0 1 0 2.9 0a1.45 1.45 0 1 0 -2.9 0zM596.78 43.12a1.45 1.45 0 1 0 2.9 0a1.45 1.45 0 1 0 -2.9 0zM597.24 43.93a1.45 1.45 0 1 0 2.9 0a1.45 1.45 0 1 0 -2.9 0zM597.66 44.72a1.45 1.45 0 1 0 2.9 0a1.45 1.45 0 1 0 -2.9 0zM598.05 45.54a1.45 1.45 0 1 0 2.9 0a1.45 1.45 0 1 0 -2.9 0zM598.4 46.36a1.45 1.45 0 1 0 2.9 0a1.45 1.45 0 1 0 -2.9 0zM598.71 47.21a1.45 1.45 0 1 0 2.9 0a1.45 1.45 0 1 0 -2.9 0zM598.99 48.07a1.45 1.45 0 1 0 2.9 0a1.45 1.45 0 1 0 -2.9 0zM599.22 48.93a1.45 1.45 0 1 0 2.9 0a1.45 1.45 0 1 0 -2.9 0zM599.42 49.81a1.45 1.45 0 1 0 2.9 0a1.45 1.45 0 1 0 -2.9 0zM599.58 50.7a1.45 1.45 0 1 0 2.9 0a1.45 1.45 0 1 0 -2.9 0zM599.72 51.59a1.45 1.45 0 1 0 2.9 0a1.45 1.45 0 1 0 -2.9 0zM599.8 52.48a1.45 1.45 0 1 0 2.9 0a1.45 1.45 0 1 0 -2.9 0zM599.84 53.38a1.45 1.45 0 1 0 2.9 0a1.45 1.45 0 1 0 -2.9 0zM599.84 54.28a1.45 1.45 0 1 0 2.9 0a1.45 1.45 0 1 0 -2.9 0zM599.81 55.18a1.45 1.45 0 1 0 2.9 0a1.45 1.45 0 1 0 -2.9 0zM599.76 56.08a1.45 1.45 0 1 0 2.9 0a1.45 1.45 0 1 0 -2.9 0zM599.68 56.98a1.45 1.45 0 1 0 2.9 0a1.45 1.45 0 1 0 -2.9 0zM599.59 57.87a1.45 1.45 0 1 0 2.9 0a1.45 1.45 0 1 0 -2.9 0zM599.46 58.76a1.45 1.45 0 1 0 2.9 0a1.45 1.45 0 1 0 -2.9 0zM599.31 59.65a1.45 1.45 0 1 0 2.9 0a1.45 1.45 0 1 0 -2.9 0zM599.13 60.53a1.45 1.45 0 1 0 2.9 0a1.45 1.45 0 1 0 -2.9 0zM598.91 61.41a1.45 1.45 0 1 0 2.9 0a1.45 1.45 0 1 0 -2.9 0zM598.67 62.27a1.45 1.45 0 1 0 2.9 0a1.45 1.45 0 1 0 -2.9 0zM598.41 63.13a1.45 1.45 0 1 0 2.9 0a1.45 1.45 0 1 0 -2.9 0zM598.11 63.98a1.45 1.45 0 1 0 2.9 0a1.45 1.45 0 1 0 -2.9 0zM597.77 64.82a1.45 1.45 0 1 0 2.9 0a1.45 1.45 0 1 0 -2.9 0zM597.42 65.64a1.45 1.45 0 1 0 2.9 0a1.45 1.45 0 1 0 -2.9 0zM597.04 66.46a1.45 1.45 0 1 0 2.9 0a1.45 1.45 0 1 0 -2.9 0zM596.65 67.27a1.45 1.45 0 1 0 2.9 0a1.45 1.45 0 1 0 -2.9 0zM596.26 68.08a1.45 1.45 0 1 0 2.9 0a1.45 1.45 0 1 0 -2.9 0zM595.86 68.89a1.45 1.45 0 1 0 2.9 0a1.45 1.45 0 1 0 -2.9 0zM595.45 69.69a1.45 1.45 0 1 0 2.9 0a1.45 1.45 0 1 0 -2.9 0zM595.03 70.48a1.45 1.45 0 1 0 2.9 0a1.45 1.45 0 1 0 -2.9 0zM594.59 71.27a1.45 1.45 0 1 0 2.9 0a1.45 1.45 0 1 0 -2.9 0zM594.16 72.06a1.45 1.45 0 1 0 2.9 0a1.45 1.45 0 1 0 -2.9 0zM593.71 72.84a1.45 1.45 0 1 0 2.9 0a1.45 1.45 0 1 0 -2.9 0zM593.27 73.62a1.45 1.45 0 1 0 2.9 0a1.45 1.45 0 1 0 -2.9 0zM592.81 74.4a1.45 1.45 0 1 0 2.9 0a1.45 1.45 0 1 0 -2.9 0zM592.34 75.17a1.45 1.45 0 1 0 2.9 0a1.45 1.45 0 1 0 -2.9 0zM591.85 75.93a1.45 1.45 0 1 0 2.9 0a1.45 1.45 0 1 0 -2.9 0zM591.37 76.68a1.45 1.45 0 1 0 2.9 0a1.45 1.45 0 1 0 -2.9 0zM590.88 77.44a1.45 1.45 0 1 0 2.9 0a1.45 1.45 0 1 0 -2.9 0zM590.41 78.21a1.45 1.45 0 1 0 2.9 0a1.45 1.45 0 1 0 -2.9 0zM589.97 78.99a1.45 1.45 0 1 0 2.9 0a1.45 1.45 0 1 0 -2.9 0zM589.55 79.79a1.45 1.45 0 1 0 2.9 0a1.45 1.45 0 1 0 -2.9 0zM589.17 80.61a1.45 1.45 0 1 0 2.9 0a1.45 1.45 0 1 0 -2.9 0zM588.83 81.44a1.45 1.45 0 1 0 2.9 0a1.45 1.45 0 1 0 -2.9 0zM588.51 82.28a1.45 1.45 0 1 0 2.9 0a1.45 1.45 0 1 0 -2.9 0zM588.21 83.13a1.45 1.45 0 1 0 2.9 0a1.45 1.45 0 1 0 -2.9 0zM587.92 83.98a1.45 1.45 0 1 0 2.9 0a1.45 1.45 0 1 0 -2.9 0zM587.62 84.83a1.45 1.45 0 1 0 2.9 0a1.45 1.45 0 1 0 -2.9 0zM587.31 85.67a1.45 1.45 0 1 0 2.9 0a1.45 1.45 0 1 0 -2.9 0zM586.99 86.51a1.45 1.45 0 1 0 2.9 0a1.45 1.45 0 1 0 -2.9 0zM586.65 87.35a1.45 1.45 0 1 0 2.9 0a1.45 1.45 0 1 0 -2.9 0zM586.3 88.18a1.45 1.45 0 1 0 2.9 0a1.45 1.45 0 1 0 -2.9 0zM585.94 89a1.45 1.45 0 1 0 2.9 0a1.45 1.45 0 1 0 -2.9 0zM585.58 89.82a1.45 1.45 0 1 0 2.9 0a1.45 1.45 0 1 0 -2.9 0zM585.21 90.64a1.45 1.45 0 1 0 2.9 0a1.45 1.45 0 1 0 -2.9 0zM584.83 91.46a1.45 1.45 0 1 0 2.9 0a1.45 1.45 0 1 0 -2.9 0zM584.46 92.28a1.45 1.45 0 1 0 2.9 0a1.45 1.45 0 1 0 -2.9 0zM584.08 93.1a1.45 1.45 0 1 0 2.9 0a1.45 1.45 0 1 0 -2.9 0zM583.71 93.92a1.45 1.45 0 1 0 2.9 0a1.45 1.45 0 1 0 -2.9 0zM583.33 94.74a1.45 1.45 0 1 0 2.9 0a1.45 1.45 0 1 0 -2.9 0zM582.96 95.55a1.45 1.45 0 1 0 2.9 0a1.45 1.45 0 1 0 -2.9 0zM582.59 96.37a1.45 1.45 0 1 0 2.9 0a1.45 1.45 0 1 0 -2.9 0zM582.22 97.19a1.45 1.45 0 1 0 2.9 0a1.45 1.45 0 1 0 -2.9 0zM581.85 98.02a1.45 1.45 0 1 0 2.9 0a1.45 1.45 0 1 0 -2.9 0zM581.49 98.84a1.45 1.45 0 1 0 2.9 0a1.45 1.45 0 1 0 -2.9 0zM581.13 99.67a1.45 1.45 0 1 0 2.9 0a1.45 1.45 0 1 0 -2.9 0zM580.78 100.49a1.45 1.45 0 1 0 2.9 0a1.45 1.45 0 1 0 -2.9 0zM580.43 101.32a1.45 1.45 0 1 0 2.9 0a1.45 1.45 0 1 0 -2.9 0zM580.08 102.15a1.45 1.45 0 1 0 2.9 0a1.45 1.45 0 1 0 -2.9 0zM579.74 102.99a1.45 1.45 0 1 0 2.9 0a1.45 1.45 0 1 0 -2.9 0zM579.39 103.82a1.45 1.45 0 1 0 2.9 0a1.45 1.45 0 1 0 -2.9 0zM579.05 104.65a1.45 1.45 0 1 0 2.9 0a1.45 1.45 0 1 0 -2.9 0zM578.71 105.48a1.45 1.45 0 1 0 2.9 0a1.45 1.45 0 1 0 -2.9 0zM578.37 106.32a1.45 1.45 0 1 0 2.9 0a1.45 1.45 0 1 0 -2.9 0zM578.03 107.15a1.45 1.45 0 1 0 2.9 0a1.45 1.45 0 1 0 -2.9 0zM577.68 107.98a1.45 1.45 0 1 0 2.9 0a1.45 1.45 0 1 0 -2.9 0zM577.34 108.81a1.45 1.45 0 1 0 2.9 0a1.45 1.45 0 1 0 -2.9 0zM576.99 109.64a1.45 1.45 0 1 0 2.9 0a1.45 1.45 0 1 0 -2.9 0zM576.63 110.47a1.45 1.45 0 1 0 2.9 0a1.45 1.45 0 1 0 -2.9 0zM576.28 111.29a1.45 1.45 0 1 0 2.9 0a1.45 1.45 0 1 0 -2.9 0zM575.92 112.12a1.45 1.45 0 1 0 2.9 0a1.45 1.45 0 1 0 -2.9 0zM575.57 112.95a1.45 1.45 0 1 0 2.9 0a1.45 1.45 0 1 0 -2.9 0zM575.23 113.78a1.45 1.45 0 1 0 2.9 0a1.45 1.45 0 1 0 -2.9 0zM574.89 114.61a1.45 1.45 0 1 0 2.9 0a1.45 1.45 0 1 0 -2.9 0zM574.56 115.45a1.45 1.45 0 1 0 2.9 0a1.45 1.45 0 1 0 -2.9 0zM574.24 116.29a1.45 1.45 0 1 0 2.9 0a1.45 1.45 0 1 0 -2.9 0zM573.93 117.14a1.45 1.45 0 1 0 2.9 0a1.45 1.45 0 1 0 -2.9 0zM573.62 117.98a1.45 1.45 0 1 0 2.9 0a1.45 1.45 0 1 0 -2.9 0zM573.32 118.83a1.45 1.45 0 1 0 2.9 0a1.45 1.45 0 1 0 -2.9 0zM573.02 119.68a1.45 1.45 0 1 0 2.9 0a1.45 1.45 0 1 0 -2.9 0zM572.72 120.53a1.45 1.45 0 1 0 2.9 0a1.45 1.45 0 1 0 -2.9 0zM572.43 121.38a1.45 1.45 0 1 0 2.9 0a1.45 1.45 0 1 0 -2.9 0zM572.14 122.23a1.45 1.45 0 1 0 2.9 0a1.45 1.45 0 1 0 -2.9 0zM571.84 123.08a1.45 1.45 0 1 0 2.9 0a1.45 1.45 0 1 0 -2.9 0zM571.55 123.94a1.45 1.45 0 1 0 2.9 0a1.45 1.45 0 1 0 -2.9 0zM571.26 124.79a1.45 1.45 0 1 0 2.9 0a1.45 1.45 0 1 0 -2.9 0zM570.97 125.64a1.45 1.45 0 1 0 2.9 0a1.45 1.45 0 1 0 -2.9 0zM570.68 126.49a1.45 1.45 0 1 0 2.9 0a1.45 1.45 0 1 0 -2.9 0zM570.39 127.34a1.45 1.45 0 1 0 2.9 0a1.45 1.45 0 1 0 -2.9 0zM570.1 128.19a1.45 1.45 0 1 0 2.9 0a1.45 1.45 0 1 0 -2.9 0zM569.8 129.04a1.45 1.45 0 1 0 2.9 0a1.45 1.45 0 1 0 -2.9 0zM569.51 129.9a1.45 1.45 0 1 0 2.9 0a1.45 1.45 0 1 0 -2.9 0zM569.22 130.75a1.45 1.45 0 1 0 2.9 0a1.45 1.45 0 1 0 -2.9 0zM568.94 131.6a1.45 1.45 0 1 0 2.9 0a1.45 1.45 0 1 0 -2.9 0zM568.65 132.45a1.45 1.45 0 1 0 2.9 0a1.45 1.45 0 1 0 -2.9 0zM568.38 133.31a1.45 1.45 0 1 0 2.9 0a1.45 1.45 0 1 0 -2.9 0zM568.1 134.17a1.45 1.45 0 1 0 2.9 0a1.45 1.45 0 1 0 -2.9 0zM567.84 135.03a1.45 1.45 0 1 0 2.9 0a1.45 1.45 0 1 0 -2.9 0zM567.6 135.9a1.45 1.45 0 1 0 2.9 0a1.45 1.45 0 1 0 -2.9 0zM567.37 136.77a1.45 1.45 0 1 0 2.9 0a1.45 1.45 0 1 0 -2.9 0zM567.16 137.64a1.45 1.45 0 1 0 2.9 0a1.45 1.45 0 1 0 -2.9 0zM566.97 138.52a1.45 1.45 0 1 0 2.9 0a1.45 1.45 0 1 0 -2.9 0zM566.78 139.4a1.45 1.45 0 1 0 2.9 0a1.45 1.45 0 1 0 -2.9 0zM566.6 140.28a1.45 1.45 0 1 0 2.9 0a1.45 1.45 0 1 0 -2.9 0zM566.55 140.5a1.45 1.45 0 1 0 2.9 0a1.45 1.45 0 1 0 -2.9 0z" fill="none" stroke="#4f9dbf" stroke-width="0.9"/>
<path d="M539.5 16.4l1.9 1.9l-1.9 1.9l-1.9 -1.9zM552 17.6l1.9 1.9l-1.9 1.9l-1.9 -1.9zM561.9 19.3l1.9 1.9l-1.9 1.9l-1.9 -1.9zM570.6 20.5l1.9 1.9l-1.9 1.9l-1.9 -1.9zM577.6 21.8l1.9 1.9l-1.9 1.9l-1.9 -1.9zM583.1 23.3l1.9 1.9l-1.9 1.9l-1.9 -1.9zM588 24.9l1.9 1.9l-1.9 1.9l-1.9 -1.9zM592.4 26.6l1.9 1.9l-1.9 1.9l-1.9 -1.9zM596.1 28.1l1.9 1.9l-1.9 1.9l-1.9 -1.9z" fill="none" stroke="#8f9196" stroke-width="0.9"/>
<path d="M599.2 29.9l1.9 1.9l-1.9 1.9l-1.9 -1.9zM600.76 31.15l1.9 1.9l-1.9 1.9l-1.9 -1.9zM602.18 32.31l1.9 1.9l-1.9 1.9l-1.9 -1.9zM603.42 33.45l1.9 1.9l-1.9 1.9l-1.9 -1.9zM604.45 34.61l1.9 1.9l-1.9 1.9l-1.9 -1.9zM605.29 35.76l1.9 1.9l-1.9 1.9l-1.9 -1.9zM606 36.86l1.9 1.9l-1.9 1.9l-1.9 -1.9zM606.6 37.89l1.9 1.9l-1.9 1.9l-1.9 -1.9zM607.12 38.86l1.9 1.9l-1.9 1.9l-1.9 -1.9zM607.57 39.77l1.9 1.9l-1.9 1.9l-1.9 -1.9zM607.97 40.66l1.9 1.9l-1.9 1.9l-1.9 -1.9zM608.33 41.54l1.9 1.9l-1.9 1.9l-1.9 -1.9zM608.64 42.41l1.9 1.9l-1.9 1.9l-1.9 -1.9zM608.91 43.27l1.9 1.9l-1.9 1.9l-1.9 -1.9zM609.15 44.14l1.9 1.9l-1.9 1.9l-1.9 -1.9zM609.34 45.02l1.9 1.9l-1.9 1.9l-1.9 -1.9zM609.5 45.9l1.9 1.9l-1.9 1.9l-1.9 -1.9zM609.61 46.79l1.9 1.9l-1.9 1.9l-1.9 -1.9zM609.67 47.69l1.9 1.9l-1.9 1.9l-1.9 -1.9zM609.68 48.59l1.9 1.9l-1.9 1.9l-1.9 -1.9zM609.65 49.49l1.9 1.9l-1.9 1.9l-1.9 -1.9zM609.58 50.39l1.9 1.9l-1.9 1.9l-1.9 -1.9zM609.47 51.28l1.9 1.9l-1.9 1.9l-1.9 -1.9zM609.34 52.17l1.9 1.9l-1.9 1.9l-1.9 -1.9zM609.17 53.06l1.9 1.9l-1.9 1.9l-1.9 -1.9zM608.95 53.93l1.9 1.9l-1.9 1.9l-1.9 -1.9zM608.68 54.79l1.9 1.9l-1.9 1.9l-1.9 -1.9zM608.37 55.63l1.9 1.9l-1.9 1.9l-1.9 -1.9zM608.02 56.46l1.9 1.9l-1.9 1.9l-1.9 -1.9zM607.66 57.29l1.9 1.9l-1.9 1.9l-1.9 -1.9zM607.3 58.11l1.9 1.9l-1.9 1.9l-1.9 -1.9zM606.93 58.93l1.9 1.9l-1.9 1.9l-1.9 -1.9zM606.55 59.75l1.9 1.9l-1.9 1.9l-1.9 -1.9zM606.16 60.56l1.9 1.9l-1.9 1.9l-1.9 -1.9zM605.75 61.36l1.9 1.9l-1.9 1.9l-1.9 -1.9zM605.33 62.16l1.9 1.9l-1.9 1.9l-1.9 -1.9zM604.89 62.94l1.9 1.9l-1.9 1.9l-1.9 -1.9zM604.43 63.71l1.9 1.9l-1.9 1.9l-1.9 -1.9zM603.94 64.47l1.9 1.9l-1.9 1.9l-1.9 -1.9zM603.41 65.2l1.9 1.9l-1.9 1.9l-1.9 -1.9zM602.87 65.92l1.9 1.9l-1.9 1.9l-1.9 -1.9zM602.32 66.63l1.9 1.9l-1.9 1.9l-1.9 -1.9zM601.78 67.35l1.9 1.9l-1.9 1.9l-1.9 -1.9zM601.26 68.08l1.9 1.9l-1.9 1.9l-1.9 -1.9zM600.75 68.82l1.9 1.9l-1.9 1.9l-1.9 -1.9zM600.25 69.57l1.9 1.9l-1.9 1.9l-1.9 -1.9zM599.75 70.32l1.9 1.9l-1.9 1.9l-1.9 -1.9zM599.26 71.08l1.9 1.9l-1.9 1.9l-1.9 -1.9zM598.77 71.83l1.9 1.9l-1.9 1.9l-1.9 -1.9zM598.28 72.59l1.9 1.9l-1.9 1.9l-1.9 -1.9zM597.8 73.35l1.9 1.9l-1.9 1.9l-1.9 -1.9zM597.32 74.11l1.9 1.9l-1.9 1.9l-1.9 -1.9zM596.85 74.88l1.9 1.9l-1.9 1.9l-1.9 -1.9zM596.38 75.64l1.9 1.9l-1.9 1.9l-1.9 -1.9zM595.91 76.41l1.9 1.9l-1.9 1.9l-1.9 -1.9zM595.45 77.19l1.9 1.9l-1.9 1.9l-1.9 -1.9zM595 77.96l1.9 1.9l-1.9 1.9l-1.9 -1.9zM594.54 78.74l1.9 1.9l-1.9 1.9l-1.9 -1.9zM594.09 79.52l1.9 1.9l-1.9 1.9l-1.9 -1.9zM593.65 80.3l1.9 1.9l-1.9 1.9l-1.9 -1.9zM593.2 81.08l1.9 1.9l-1.9 1.9l-1.9 -1.9zM592.76 81.87l1.9 1.9l-1.9 1.9l-1.9 -1.9zM592.31 82.65l1.9 1.9l-1.9 1.9l-1.9 -1.9zM591.87 83.43l1.9 1.9l-1.9 1.9l-1.9 -1.9zM591.43 84.22l1.9 1.9l-1.9 1.9l-1.9 -1.9zM590.99 85l1.9 1.9l-1.9 1.9l-1.9 -1.9zM590.55 85.79l1.9 1.9l-1.9 1.9l-1.9 -1.9zM590.11 86.57l1.9 1.9l-1.9 1.9l-1.9 -1.9zM589.67 87.36l1.9 1.9l-1.9 1.9l-1.9 -1.9zM589.23 88.14l1.9 1.9l-1.9 1.9l-1.9 -1.9zM588.79 88.93l1.9 1.9l-1.9 1.9l-1.9 -1.9zM588.35 89.71l1.9 1.9l-1.9 1.9l-1.9 -1.9zM587.91 90.5l1.9 1.9l-1.9 1.9l-1.9 -1.9zM587.47 91.28l1.9 1.9l-1.9 1.9l-1.9 -1.9zM587.03 92.07l1.9 1.9l-1.9 1.9l-1.9 -1.9zM586.6 92.86l1.9 1.9l-1.9 1.9l-1.9 -1.9zM586.17 93.65l1.9 1.9l-1.9 1.9l-1.9 -1.9zM585.74 94.44l1.9 1.9l-1.9 1.9l-1.9 -1.9zM585.32 95.24l1.9 1.9l-1.9 1.9l-1.9 -1.9zM584.9 96.03l1.9 1.9l-1.9 1.9l-1.9 -1.9zM584.48 96.83l1.9 1.9l-1.9 1.9l-1.9 -1.9zM584.08 97.63l1.9 1.9l-1.9 1.9l-1.9 -1.9zM583.68 98.44l1.9 1.9l-1.9 1.9l-1.9 -1.9zM583.29 99.25l1.9 1.9l-1.9 1.9l-1.9 -1.9zM582.91 100.07l1.9 1.9l-1.9 1.9l-1.9 -1.9zM582.53 100.88l1.9 1.9l-1.9 1.9l-1.9 -1.9zM582.15 101.7l1.9 1.9l-1.9 1.9l-1.9 -1.9zM581.78 102.52l1.9 1.9l-1.9 1.9l-1.9 -1.9zM581.41 103.34l1.9 1.9l-1.9 1.9l-1.9 -1.9zM581.04 104.16l1.9 1.9l-1.9 1.9l-1.9 -1.9zM580.66 104.98l1.9 1.9l-1.9 1.9l-1.9 -1.9zM580.28 105.79l1.9 1.9l-1.9 1.9l-1.9 -1.9zM579.9 106.61l1.9 1.9l-1.9 1.9l-1.9 -1.9zM579.51 107.42l1.9 1.9l-1.9 1.9l-1.9 -1.9zM579.11 108.23l1.9 1.9l-1.9 1.9l-1.9 -1.9zM578.7 109.03l1.9 1.9l-1.9 1.9l-1.9 -1.9zM578.3 109.83l1.9 1.9l-1.9 1.9l-1.9 -1.9zM577.89 110.64l1.9 1.9l-1.9 1.9l-1.9 -1.9zM577.5 111.44l1.9 1.9l-1.9 1.9l-1.9 -1.9zM577.11 112.26l1.9 1.9l-1.9 1.9l-1.9 -1.9zM576.74 113.08l1.9 1.9l-1.9 1.9l-1.9 -1.9zM576.38 113.9l1.9 1.9l-1.9 1.9l-1.9 -1.9zM576.04 114.74l1.9 1.9l-1.9 1.9l-1.9 -1.9zM575.7 115.57l1.9 1.9l-1.9 1.9l-1.9 -1.9zM575.38 116.41l1.9 1.9l-1.9 1.9l-1.9 -1.9zM575.06 117.25l1.9 1.9l-1.9 1.9l-1.9 -1.9zM574.75 118.09l1.9 1.9l-1.9 1.9l-1.9 -1.9zM574.44 118.94l1.9 1.9l-1.9 1.9l-1.9 -1.9zM574.13 119.79l1.9 1.9l-1.9 1.9l-1.9 -1.9zM573.83 120.63l1.9 1.9l-1.9 1.9l-1.9 -1.9zM573.52 121.48l1.9 1.9l-1.9 1.9l-1.9 -1.9zM573.22 122.33l1.9 1.9l-1.9 1.9l-1.9 -1.9zM572.92 123.18l1.9 1.9l-1.9 1.9l-1.9 -1.9zM572.63 124.03l1.9 1.9l-1.9 1.9l-1.9 -1.9zM572.33 124.88l1.9 1.9l-1.9 1.9l-1.9 -1.9zM572.03 125.73l1.9 1.9l-1.9 1.9l-1.9 -1.9zM571.74 126.58l1.9 1.9l-1.9 1.9l-1.9 -1.9zM571.44 127.43l1.9 1.9l-1.9 1.9l-1.9 -1.9zM571.15 128.28l1.9 1.9l-1.9 1.9l-1.9 -1.9zM570.87 129.13l1.9 1.9l-1.9 1.9l-1.9 -1.9zM570.58 129.99l1.9 1.9l-1.9 1.9l-1.9 -1.9zM570.3 130.84l1.9 1.9l-1.9 1.9l-1.9 -1.9zM570.03 131.7l1.9 1.9l-1.9 1.9l-1.9 -1.9zM569.76 132.56l1.9 1.9l-1.9 1.9l-1.9 -1.9zM569.51 133.42l1.9 1.9l-1.9 1.9l-1.9 -1.9zM569.27 134.29l1.9 1.9l-1.9 1.9l-1.9 -1.9zM569.04 135.16l1.9 1.9l-1.9 1.9l-1.9 -1.9zM568.83 136.04l1.9 1.9l-1.9 1.9l-1.9 -1.9zM568.63 136.91l1.9 1.9l-1.9 1.9l-1.9 -1.9zM568.44 137.79l1.9 1.9l-1.9 1.9l-1.9 -1.9zM568.25 138.67l1.9 1.9l-1.9 1.9l-1.9 -1.9zM568.2 138.9l1.9 1.9l-1.9 1.9l-1.9 -1.9z" fill="none" stroke="#8f9196" stroke-width="0.9"/>
<text x="604.1" y="18.5" class="ti">(<tspan font-style="italic">d</tspan>) <tspan font-style="italic" dx="0.6">T</tspan><tspan dx="1.2">=</tspan><tspan dx="0.7" letter-spacing="0.6">0.8</tspan></text>
<text x="542.5" y="65" class="xn"><tspan font-style="italic">&#x1E8B;</tspan><tspan dx="0.6">&lt;</tspan><tspan dx="0.8">0</tspan></text>
<path d="M68.31 323.58h3.2v3.2h-3.2zM68.45 322.49h3.2v3.2h-3.2zM68.58 321.4h3.2v3.2h-3.2zM68.71 320.3h3.2v3.2h-3.2zM68.84 319.21h3.2v3.2h-3.2zM68.97 318.11h3.2v3.2h-3.2zM69.11 317.01h3.2v3.2h-3.2zM69.25 315.92h3.2v3.2h-3.2zM69.39 314.82h3.2v3.2h-3.2zM69.54 313.72h3.2v3.2h-3.2zM69.7 312.62h3.2v3.2h-3.2zM69.87 311.52h3.2v3.2h-3.2zM70.03 310.42h3.2v3.2h-3.2zM70.2 309.32h3.2v3.2h-3.2zM70.38 308.22h3.2v3.2h-3.2zM70.56 307.11h3.2v3.2h-3.2zM70.74 306.01h3.2v3.2h-3.2zM70.93 304.91h3.2v3.2h-3.2zM71.12 303.8h3.2v3.2h-3.2zM71.32 302.7h3.2v3.2h-3.2zM71.54 301.6h3.2v3.2h-3.2zM71.76 300.5h3.2v3.2h-3.2zM71.99 299.39h3.2v3.2h-3.2zM72.23 298.29h3.2v3.2h-3.2zM72.48 297.19h3.2v3.2h-3.2zM72.73 296.09h3.2v3.2h-3.2zM72.99 294.99h3.2v3.2h-3.2zM73.26 293.89h3.2v3.2h-3.2zM73.54 292.8h3.2v3.2h-3.2zM73.83 291.7h3.2v3.2h-3.2zM74.12 290.6h3.2v3.2h-3.2zM74.43 289.51h3.2v3.2h-3.2zM74.74 288.41h3.2v3.2h-3.2zM75.06 287.32h3.2v3.2h-3.2zM75.39 286.23h3.2v3.2h-3.2zM75.72 285.14h3.2v3.2h-3.2zM76.07 284.05h3.2v3.2h-3.2zM76.42 282.96h3.2v3.2h-3.2zM76.77 281.87h3.2v3.2h-3.2zM77.13 280.78h3.2v3.2h-3.2zM77.49 279.7h3.2v3.2h-3.2zM77.86 278.61h3.2v3.2h-3.2zM78.23 277.52h3.2v3.2h-3.2zM78.68 276.43h3.2v3.2h-3.2zM79.18 275.33h3.2v3.2h-3.2zM79.69 274.21h3.2v3.2h-3.2zM80.23 273.06h3.2v3.2h-3.2zM80.79 271.89h3.2v3.2h-3.2zM81.38 270.7h3.2v3.2h-3.2zM82.01 269.49h3.2v3.2h-3.2zM82.68 268.27h3.2v3.2h-3.2zM83.38 267.02h3.2v3.2h-3.2zM84.13 265.76h3.2v3.2h-3.2zM84.92 264.49h3.2v3.2h-3.2zM85.76 263.2h3.2v3.2h-3.2zM86.65 261.9h3.2v3.2h-3.2zM87.55 260.57h3.2v3.2h-3.2zM88.47 259.19h3.2v3.2h-3.2zM89.43 257.79h3.2v3.2h-3.2zM90.44 256.39h3.2v3.2h-3.2zM91.51 254.96h3.2v3.2h-3.2zM92.64 253.54h3.2v3.2h-3.2zM93.85 252.11h3.2v3.2h-3.2zM95.12 250.68h3.2v3.2h-3.2zM96.46 249.25h3.2v3.2h-3.2zM97.85 247.81h3.2v3.2h-3.2zM99.3 246.35h3.2v3.2h-3.2zM100.83 244.91h3.2v3.2h-3.2zM102.46 243.5h3.2v3.2h-3.2zM104.15 242.1h3.2v3.2h-3.2zM105.91 240.69h3.2v3.2h-3.2zM107.73 239.29h3.2v3.2h-3.2zM109.59 237.84h3.2v3.2h-3.2zM111.54 236.41h3.2v3.2h-3.2zM113.6 234.97h3.2v3.2h-3.2zM115.77 233.5h3.2v3.2h-3.2zM118.07 232.04h3.2v3.2h-3.2zM120.53 230.64h3.2v3.2h-3.2zM123.18 229.34h3.2v3.2h-3.2zM123.9 229h3.2v3.2h-3.2z" fill="none" stroke="#e9303a" stroke-width="0.85"/>
<path d="M127 227.5h3.6v3.6h-3.6zM130.1 226.2h3.6v3.6h-3.6zM133.4 224.7h3.6v3.6h-3.6zM136.9 223.3h3.6v3.6h-3.6zM140.6 222h3.6v3.6h-3.6zM144.7 220.7h3.6v3.6h-3.6zM149.1 219.2h3.6v3.6h-3.6zM154.1 217.9h3.6v3.6h-3.6zM159.2 216.7h3.6v3.6h-3.6zM165.1 215.4h3.6v3.6h-3.6z" fill="none" stroke="#e9303a" stroke-width="0.9"/>
<path d="M76.2 325.6a1.5 1.5 0 1 0 3 0a1.5 1.5 0 1 0 -3 0zM76.26 324.5a1.5 1.5 0 1 0 3 0a1.5 1.5 0 1 0 -3 0zM76.31 323.4a1.5 1.5 0 1 0 3 0a1.5 1.5 0 1 0 -3 0zM76.36 322.3a1.5 1.5 0 1 0 3 0a1.5 1.5 0 1 0 -3 0zM76.42 321.2a1.5 1.5 0 1 0 3 0a1.5 1.5 0 1 0 -3 0zM76.47 320.09a1.5 1.5 0 1 0 3 0a1.5 1.5 0 1 0 -3 0zM76.54 318.99a1.5 1.5 0 1 0 3 0a1.5 1.5 0 1 0 -3 0zM76.6 317.88a1.5 1.5 0 1 0 3 0a1.5 1.5 0 1 0 -3 0zM76.67 316.78a1.5 1.5 0 1 0 3 0a1.5 1.5 0 1 0 -3 0zM76.75 315.67a1.5 1.5 0 1 0 3 0a1.5 1.5 0 1 0 -3 0zM76.83 314.56a1.5 1.5 0 1 0 3 0a1.5 1.5 0 1 0 -3 0zM76.92 313.45a1.5 1.5 0 1 0 3 0a1.5 1.5 0 1 0 -3 0zM77.02 312.35a1.5 1.5 0 1 0 3 0a1.5 1.5 0 1 0 -3 0zM77.11 311.23a1.5 1.5 0 1 0 3 0a1.5 1.5 0 1 0 -3 0zM77.21 310.12a1.5 1.5 0 1 0 3 0a1.5 1.5 0 1 0 -3 0zM77.31 309.01a1.5 1.5 0 1 0 3 0a1.5 1.5 0 1 0 -3 0zM77.42 307.9a1.5 1.5 0 1 0 3 0a1.5 1.5 0 1 0 -3 0zM77.54 306.78a1.5 1.5 0 1 0 3 0a1.5 1.5 0 1 0 -3 0zM77.66 305.67a1.5 1.5 0 1 0 3 0a1.5 1.5 0 1 0 -3 0zM77.8 304.56a1.5 1.5 0 1 0 3 0a1.5 1.5 0 1 0 -3 0zM77.94 303.44a1.5 1.5 0 1 0 3 0a1.5 1.5 0 1 0 -3 0zM78.1 302.33a1.5 1.5 0 1 0 3 0a1.5 1.5 0 1 0 -3 0zM78.26 301.21a1.5 1.5 0 1 0 3 0a1.5 1.5 0 1 0 -3 0zM78.43 300.1a1.5 1.5 0 1 0 3 0a1.5 1.5 0 1 0 -3 0zM78.62 298.99a1.5 1.5 0 1 0 3 0a1.5 1.5 0 1 0 -3 0zM78.81 297.87a1.5 1.5 0 1 0 3 0a1.5 1.5 0 1 0 -3 0zM79.02 296.76a1.5 1.5 0 1 0 3 0a1.5 1.5 0 1 0 -3 0zM79.23 295.65a1.5 1.5 0 1 0 3 0a1.5 1.5 0 1 0 -3 0zM79.46 294.54a1.5 1.5 0 1 0 3 0a1.5 1.5 0 1 0 -3 0zM79.69 293.43a1.5 1.5 0 1 0 3 0a1.5 1.5 0 1 0 -3 0zM79.93 292.32a1.5 1.5 0 1 0 3 0a1.5 1.5 0 1 0 -3 0zM80.18 291.21a1.5 1.5 0 1 0 3 0a1.5 1.5 0 1 0 -3 0zM80.44 290.1a1.5 1.5 0 1 0 3 0a1.5 1.5 0 1 0 -3 0zM80.71 288.99a1.5 1.5 0 1 0 3 0a1.5 1.5 0 1 0 -3 0zM80.98 287.88a1.5 1.5 0 1 0 3 0a1.5 1.5 0 1 0 -3 0zM81.26 286.78a1.5 1.5 0 1 0 3 0a1.5 1.5 0 1 0 -3 0zM81.55 285.67a1.5 1.5 0 1 0 3 0a1.5 1.5 0 1 0 -3 0zM81.85 284.56a1.5 1.5 0 1 0 3 0a1.5 1.5 0 1 0 -3 0zM82.14 283.46a1.5 1.5 0 1 0 3 0a1.5 1.5 0 1 0 -3 0zM82.44 282.35a1.5 1.5 0 1 0 3 0a1.5 1.5 0 1 0 -3 0zM82.75 281.24a1.5 1.5 0 1 0 3 0a1.5 1.5 0 1 0 -3 0zM83.06 280.14a1.5 1.5 0 1 0 3 0a1.5 1.5 0 1 0 -3 0zM83.38 279a1.5 1.5 0 1 0 3 0a1.5 1.5 0 1 0 -3 0zM83.72 277.84a1.5 1.5 0 1 0 3 0a1.5 1.5 0 1 0 -3 0zM84.07 276.65a1.5 1.5 0 1 0 3 0a1.5 1.5 0 1 0 -3 0zM84.44 275.44a1.5 1.5 0 1 0 3 0a1.5 1.5 0 1 0 -3 0zM84.84 274.2a1.5 1.5 0 1 0 3 0a1.5 1.5 0 1 0 -3 0zM85.27 272.94a1.5 1.5 0 1 0 3 0a1.5 1.5 0 1 0 -3 0zM85.74 271.65a1.5 1.5 0 1 0 3 0a1.5 1.5 0 1 0 -3 0zM86.25 270.34a1.5 1.5 0 1 0 3 0a1.5 1.5 0 1 0 -3 0zM86.8 269.01a1.5 1.5 0 1 0 3 0a1.5 1.5 0 1 0 -3 0zM87.39 267.66a1.5 1.5 0 1 0 3 0a1.5 1.5 0 1 0 -3 0zM88.03 266.29a1.5 1.5 0 1 0 3 0a1.5 1.5 0 1 0 -3 0zM88.72 264.91a1.5 1.5 0 1 0 3 0a1.5 1.5 0 1 0 -3 0zM89.47 263.5a1.5 1.5 0 1 0 3 0a1.5 1.5 0 1 0 -3 0zM90.26 262.08a1.5 1.5 0 1 0 3 0a1.5 1.5 0 1 0 -3 0zM91.1 260.64a1.5 1.5 0 1 0 3 0a1.5 1.5 0 1 0 -3 0zM91.99 259.18a1.5 1.5 0 1 0 3 0a1.5 1.5 0 1 0 -3 0zM92.94 257.7a1.5 1.5 0 1 0 3 0a1.5 1.5 0 1 0 -3 0zM93.95 256.21a1.5 1.5 0 1 0 3 0a1.5 1.5 0 1 0 -3 0zM95.04 254.72a1.5 1.5 0 1 0 3 0a1.5 1.5 0 1 0 -3 0zM96.2 253.23a1.5 1.5 0 1 0 3 0a1.5 1.5 0 1 0 -3 0zM97.42 251.72a1.5 1.5 0 1 0 3 0a1.5 1.5 0 1 0 -3 0zM98.7 250.2a1.5 1.5 0 1 0 3 0a1.5 1.5 0 1 0 -3 0zM100.04 248.67a1.5 1.5 0 1 0 3 0a1.5 1.5 0 1 0 -3 0zM101.45 247.14a1.5 1.5 0 1 0 3 0a1.5 1.5 0 1 0 -3 0zM102.96 245.63a1.5 1.5 0 1 0 3 0a1.5 1.5 0 1 0 -3 0zM104.54 244.13a1.5 1.5 0 1 0 3 0a1.5 1.5 0 1 0 -3 0zM106.19 242.61a1.5 1.5 0 1 0 3 0a1.5 1.5 0 1 0 -3 0zM107.91 241.1a1.5 1.5 0 1 0 3 0a1.5 1.5 0 1 0 -3 0zM109.7 239.6a1.5 1.5 0 1 0 3 0a1.5 1.5 0 1 0 -3 0zM111.59 238.11a1.5 1.5 0 1 0 3 0a1.5 1.5 0 1 0 -3 0zM113.6 236.64a1.5 1.5 0 1 0 3 0a1.5 1.5 0 1 0 -3 0zM115.75 235.17a1.5 1.5 0 1 0 3 0a1.5 1.5 0 1 0 -3 0zM118.03 233.72a1.5 1.5 0 1 0 3 0a1.5 1.5 0 1 0 -3 0zM120.48 232.32a1.5 1.5 0 1 0 3 0a1.5 1.5 0 1 0 -3 0zM123.11 231.02a1.5 1.5 0 1 0 3 0a1.5 1.5 0 1 0 -3 0zM124 230.6a1.5 1.5 0 1 0 3 0a1.5 1.5 0 1 0 -3 0z" fill="none" stroke="#4f9dbf" stroke-width="0.85"/>
<path d="M127.05 229.3a1.75 1.75 0 1 0 3.5 0a1.75 1.75 0 1 0 -3.5 0zM130.15 228a1.75 1.75 0 1 0 3.5 0a1.75 1.75 0 1 0 -3.5 0zM133.45 226.5a1.75 1.75 0 1 0 3.5 0a1.75 1.75 0 1 0 -3.5 0zM136.95 225.1a1.75 1.75 0 1 0 3.5 0a1.75 1.75 0 1 0 -3.5 0zM140.65 223.8a1.75 1.75 0 1 0 3.5 0a1.75 1.75 0 1 0 -3.5 0zM144.75 222.5a1.75 1.75 0 1 0 3.5 0a1.75 1.75 0 1 0 -3.5 0zM149.15 221a1.75 1.75 0 1 0 3.5 0a1.75 1.75 0 1 0 -3.5 0zM154.15 219.7a1.75 1.75 0 1 0 3.5 0a1.75 1.75 0 1 0 -3.5 0zM159.25 218.5a1.75 1.75 0 1 0 3.5 0a1.75 1.75 0 1 0 -3.5 0zM165.15 217.2a1.75 1.75 0 1 0 3.5 0a1.75 1.75 0 1 0 -3.5 0z" fill="none" stroke="#4f9dbf" stroke-width="0.9"/>
<path d="M85.19 324.25l1.75 1.75l-1.75 1.75l-1.75 -1.75zM85.18 323.35l1.75 1.75l-1.75 1.75l-1.75 -1.75zM85.17 322.45l1.75 1.75l-1.75 1.75l-1.75 -1.75zM85.16 321.55l1.75 1.75l-1.75 1.75l-1.75 -1.75zM85.14 320.65l1.75 1.75l-1.75 1.75l-1.75 -1.75zM85.13 319.75l1.75 1.75l-1.75 1.75l-1.75 -1.75zM85.12 318.85l1.75 1.75l-1.75 1.75l-1.75 -1.75zM85.11 317.95l1.75 1.75l-1.75 1.75l-1.75 -1.75zM85.11 317.05l1.75 1.75l-1.75 1.75l-1.75 -1.75zM85.1 316.15l1.75 1.75l-1.75 1.75l-1.75 -1.75zM85.11 315.25l1.75 1.75l-1.75 1.75l-1.75 -1.75zM85.11 314.35l1.75 1.75l-1.75 1.75l-1.75 -1.75zM85.12 313.45l1.75 1.75l-1.75 1.75l-1.75 -1.75zM85.14 312.55l1.75 1.75l-1.75 1.75l-1.75 -1.75zM85.15 311.65l1.75 1.75l-1.75 1.75l-1.75 -1.75zM85.17 310.75l1.75 1.75l-1.75 1.75l-1.75 -1.75zM85.19 309.85l1.75 1.75l-1.75 1.75l-1.75 -1.75zM85.22 308.95l1.75 1.75l-1.75 1.75l-1.75 -1.75zM85.24 308.05l1.75 1.75l-1.75 1.75l-1.75 -1.75zM85.27 307.15l1.75 1.75l-1.75 1.75l-1.75 -1.75zM85.31 306.25l1.75 1.75l-1.75 1.75l-1.75 -1.75zM85.34 305.35l1.75 1.75l-1.75 1.75l-1.75 -1.75zM85.39 304.45l1.75 1.75l-1.75 1.75l-1.75 -1.75zM85.44 303.56l1.75 1.75l-1.75 1.75l-1.75 -1.75zM85.49 302.66l1.75 1.75l-1.75 1.75l-1.75 -1.75zM85.56 301.76l1.75 1.75l-1.75 1.75l-1.75 -1.75zM85.63 300.86l1.75 1.75l-1.75 1.75l-1.75 -1.75zM85.7 299.97l1.75 1.75l-1.75 1.75l-1.75 -1.75zM85.78 299.07l1.75 1.75l-1.75 1.75l-1.75 -1.75zM85.84 298.17l1.75 1.75l-1.75 1.75l-1.75 -1.75zM85.9 297.27l1.75 1.75l-1.75 1.75l-1.75 -1.75zM85.97 296.38l1.75 1.75l-1.75 1.75l-1.75 -1.75zM86.05 295.48l1.75 1.75l-1.75 1.75l-1.75 -1.75zM86.13 294.58l1.75 1.75l-1.75 1.75l-1.75 -1.75zM86.22 293.69l1.75 1.75l-1.75 1.75l-1.75 -1.75zM86.32 292.79l1.75 1.75l-1.75 1.75l-1.75 -1.75zM86.42 291.9l1.75 1.75l-1.75 1.75l-1.75 -1.75zM86.52 291l1.75 1.75l-1.75 1.75l-1.75 -1.75zM86.63 290.11l1.75 1.75l-1.75 1.75l-1.75 -1.75zM86.75 289.22l1.75 1.75l-1.75 1.75l-1.75 -1.75zM86.88 288.33l1.75 1.75l-1.75 1.75l-1.75 -1.75zM87.01 287.44l1.75 1.75l-1.75 1.75l-1.75 -1.75zM87.14 286.55l1.75 1.75l-1.75 1.75l-1.75 -1.75zM87.28 285.66l1.75 1.75l-1.75 1.75l-1.75 -1.75zM87.42 284.77l1.75 1.75l-1.75 1.75l-1.75 -1.75zM87.56 283.88l1.75 1.75l-1.75 1.75l-1.75 -1.75zM87.71 282.99l1.75 1.75l-1.75 1.75l-1.75 -1.75zM87.86 282.11l1.75 1.75l-1.75 1.75l-1.75 -1.75zM88.01 281.22l1.75 1.75l-1.75 1.75l-1.75 -1.75zM88.17 280.33l1.75 1.75l-1.75 1.75l-1.75 -1.75zM88.33 279.45l1.75 1.75l-1.75 1.75l-1.75 -1.75zM88.49 278.56l1.75 1.75l-1.75 1.75l-1.75 -1.75zM88.66 277.68l1.75 1.75l-1.75 1.75l-1.75 -1.75zM88.83 276.79l1.75 1.75l-1.75 1.75l-1.75 -1.75zM89.01 275.88l1.75 1.75l-1.75 1.75l-1.75 -1.75zM89.21 274.94l1.75 1.75l-1.75 1.75l-1.75 -1.75zM89.42 273.96l1.75 1.75l-1.75 1.75l-1.75 -1.75zM89.66 272.96l1.75 1.75l-1.75 1.75l-1.75 -1.75zM89.91 271.92l1.75 1.75l-1.75 1.75l-1.75 -1.75zM90.2 270.85l1.75 1.75l-1.75 1.75l-1.75 -1.75zM90.52 269.74l1.75 1.75l-1.75 1.75l-1.75 -1.75zM90.87 268.6l1.75 1.75l-1.75 1.75l-1.75 -1.75zM91.26 267.43l1.75 1.75l-1.75 1.75l-1.75 -1.75zM91.68 266.22l1.75 1.75l-1.75 1.75l-1.75 -1.75zM92.16 264.98l1.75 1.75l-1.75 1.75l-1.75 -1.75zM92.68 263.71l1.75 1.75l-1.75 1.75l-1.75 -1.75zM93.25 262.4l1.75 1.75l-1.75 1.75l-1.75 -1.75zM93.86 261.06l1.75 1.75l-1.75 1.75l-1.75 -1.75zM94.53 259.68l1.75 1.75l-1.75 1.75l-1.75 -1.75zM95.24 258.27l1.75 1.75l-1.75 1.75l-1.75 -1.75zM96.02 256.82l1.75 1.75l-1.75 1.75l-1.75 -1.75zM96.86 255.35l1.75 1.75l-1.75 1.75l-1.75 -1.75zM97.79 253.84l1.75 1.75l-1.75 1.75l-1.75 -1.75zM98.8 252.32l1.75 1.75l-1.75 1.75l-1.75 -1.75zM99.88 250.77l1.75 1.75l-1.75 1.75l-1.75 -1.75zM101.04 249.18l1.75 1.75l-1.75 1.75l-1.75 -1.75zM102.25 247.57l1.75 1.75l-1.75 1.75l-1.75 -1.75zM103.54 245.94l1.75 1.75l-1.75 1.75l-1.75 -1.75zM104.93 244.34l1.75 1.75l-1.75 1.75l-1.75 -1.75zM106.4 242.74l1.75 1.75l-1.75 1.75l-1.75 -1.75zM107.93 241.13l1.75 1.75l-1.75 1.75l-1.75 -1.75zM109.54 239.51l1.75 1.75l-1.75 1.75l-1.75 -1.75zM111.28 237.95l1.75 1.75l-1.75 1.75l-1.75 -1.75zM113.11 236.42l1.75 1.75l-1.75 1.75l-1.75 -1.75zM115.08 234.91l1.75 1.75l-1.75 1.75l-1.75 -1.75zM117.22 233.44l1.75 1.75l-1.75 1.75l-1.75 -1.75zM119.49 231.99l1.75 1.75l-1.75 1.75l-1.75 -1.75zM121.93 230.6l1.75 1.75l-1.75 1.75l-1.75 -1.75zM124.56 229.29l1.75 1.75l-1.75 1.75l-1.75 -1.75zM125.5 228.85l1.75 1.75l-1.75 1.75l-1.75 -1.75z" fill="none" stroke="#8f9196" stroke-width="0.85"/>
<path d="M128.8 227.4l1.9 1.9l-1.9 1.9l-1.9 -1.9zM131.9 226.1l1.9 1.9l-1.9 1.9l-1.9 -1.9zM135.2 224.6l1.9 1.9l-1.9 1.9l-1.9 -1.9zM138.7 223.2l1.9 1.9l-1.9 1.9l-1.9 -1.9zM142.4 221.9l1.9 1.9l-1.9 1.9l-1.9 -1.9zM146.5 220.6l1.9 1.9l-1.9 1.9l-1.9 -1.9zM150.9 219.1l1.9 1.9l-1.9 1.9l-1.9 -1.9zM155.9 217.8l1.9 1.9l-1.9 1.9l-1.9 -1.9zM161 216.6l1.9 1.9l-1.9 1.9l-1.9 -1.9zM166.9 215.3l1.9 1.9l-1.9 1.9l-1.9 -1.9z" fill="none" stroke="#8f9196" stroke-width="0.9"/>
<text x="41.1" y="203.4" class="ti">(<tspan font-style="italic">e</tspan>) <tspan font-style="italic" dx="-1.2">T</tspan><tspan dx="1.2">=</tspan><tspan dx="0.7" letter-spacing="0.6">0.2</tspan></text>
<text x="107.9" y="270.2" class="xn"><tspan font-style="italic">&#x1E8B;</tspan><tspan dx="0.6">&lt;</tspan><tspan dx="0.8">0</tspan></text>
<path d="M207.85 317.15h3.5v3.5h-3.5zM215.75 315.65h3.5v3.5h-3.5zM220.25 314.65h3.5v3.5h-3.5zM223.75 313.55h3.5v3.5h-3.5zM226.35 312.35h3.5v3.5h-3.5zM228.35 311.15h3.5v3.5h-3.5z" fill="none" stroke="#e9303a" stroke-width="0.9"/>
<path d="M230.15 309.75h3.5v3.5h-3.5zM230.9 309.09h3.5v3.5h-3.5zM231.65 308.43h3.5v3.5h-3.5zM232.38 307.75h3.5v3.5h-3.5zM233.06 307.01h3.5v3.5h-3.5zM233.67 306.22h3.5v3.5h-3.5zM234.2 305.37h3.5v3.5h-3.5zM234.68 304.49h3.5v3.5h-3.5zM235.12 303.6h3.5v3.5h-3.5zM235.54 302.69h3.5v3.5h-3.5zM235.95 301.78h3.5v3.5h-3.5zM236.34 300.86h3.5v3.5h-3.5zM236.74 299.94h3.5v3.5h-3.5zM237.12 299.02h3.5v3.5h-3.5zM237.49 298.09h3.5v3.5h-3.5zM237.85 297.15h3.5v3.5h-3.5zM238.2 296.22h3.5v3.5h-3.5zM238.54 295.28h3.5v3.5h-3.5zM238.89 294.34h3.5v3.5h-3.5zM239.23 293.4h3.5v3.5h-3.5zM239.58 292.46h3.5v3.5h-3.5zM239.93 291.53h3.5v3.5h-3.5zM240.27 290.59h3.5v3.5h-3.5zM240.61 289.64h3.5v3.5h-3.5zM240.95 288.7h3.5v3.5h-3.5zM241.29 287.76h3.5v3.5h-3.5zM241.64 286.83h3.5v3.5h-3.5zM242 285.89h3.5v3.5h-3.5zM242.37 284.96h3.5v3.5h-3.5zM242.74 284.04h3.5v3.5h-3.5zM243.12 283.11h3.5v3.5h-3.5zM243.51 282.19h3.5v3.5h-3.5zM243.9 281.27h3.5v3.5h-3.5zM244.3 280.35h3.5v3.5h-3.5zM244.7 279.44h3.5v3.5h-3.5zM245.11 278.52h3.5v3.5h-3.5zM245.51 277.61h3.5v3.5h-3.5zM245.92 276.7h3.5v3.5h-3.5zM246.33 275.78h3.5v3.5h-3.5zM246.74 274.87h3.5v3.5h-3.5zM247.15 273.96h3.5v3.5h-3.5zM247.58 273.06h3.5v3.5h-3.5zM248.01 272.15h3.5v3.5h-3.5zM248.47 271.26h3.5v3.5h-3.5zM248.95 270.39h3.5v3.5h-3.5zM249.47 269.53h3.5v3.5h-3.5zM250.04 268.71h3.5v3.5h-3.5zM250.65 267.92h3.5v3.5h-3.5zM251.25 267.12h3.5v3.5h-3.5zM251.82 266.3h3.5v3.5h-3.5zM252.36 265.46h3.5v3.5h-3.5zM252.88 264.6h3.5v3.5h-3.5zM253.38 263.74h3.5v3.5h-3.5zM253.89 262.87h3.5v3.5h-3.5zM254.4 261.99h3.5v3.5h-3.5zM254.92 261.1h3.5v3.5h-3.5zM255.46 260.2h3.5v3.5h-3.5zM256.03 259.3h3.5v3.5h-3.5zM256.61 258.39h3.5v3.5h-3.5zM257.22 257.48h3.5v3.5h-3.5zM257.84 256.56h3.5v3.5h-3.5zM258.47 255.62h3.5v3.5h-3.5zM259.13 254.68h3.5v3.5h-3.5zM259.81 253.73h3.5v3.5h-3.5zM260.51 252.77h3.5v3.5h-3.5zM261.24 251.79h3.5v3.5h-3.5zM262.03 250.78h3.5v3.5h-3.5zM262.86 249.73h3.5v3.5h-3.5zM263.74 248.63h3.5v3.5h-3.5zM264.68 247.49h3.5v3.5h-3.5zM265.68 246.29h3.5v3.5h-3.5zM266.74 245.05h3.5v3.5h-3.5zM267.85 243.74h3.5v3.5h-3.5zM269.05 242.39h3.5v3.5h-3.5zM270.39 241.04h3.5v3.5h-3.5zM271.94 239.75h3.5v3.5h-3.5zM273.71 238.55h3.5v3.5h-3.5zM275.63 237.32h3.5v3.5h-3.5zM277.61 235.88h3.5v3.5h-3.5zM279.59 234.17h3.5v3.5h-3.5zM281.86 232.57h3.5v3.5h-3.5zM284.51 231.24h3.5v3.5h-3.5zM287.47 229.98h3.5v3.5h-3.5zM290.7 228.68h3.5v3.5h-3.5zM294.21 227.24h3.5v3.5h-3.5zM298.04 225.71h3.5v3.5h-3.5zM302.21 224.07h3.5v3.5h-3.5zM306.48 222.37h3.5v3.5h-3.5zM310.87 220.66h3.5v3.5h-3.5zM315.41 219.06h3.5v3.5h-3.5zM320.11 217.59h3.5v3.5h-3.5zM324.99 216.37h3.5v3.5h-3.5zM329.98 215.36h3.5v3.5h-3.5z" fill="none" stroke="#e9303a" stroke-width="0.9"/>
<path d="M334.55 217.3a1.45 1.45 0 1 0 2.9 0a1.45 1.45 0 1 0 -2.9 0zM330.44 218.17a1.45 1.45 0 1 0 2.9 0a1.45 1.45 0 1 0 -2.9 0zM326.51 219.01a1.45 1.45 0 1 0 2.9 0a1.45 1.45 0 1 0 -2.9 0zM322.77 219.92a1.45 1.45 0 1 0 2.9 0a1.45 1.45 0 1 0 -2.9 0zM319.23 220.91a1.45 1.45 0 1 0 2.9 0a1.45 1.45 0 1 0 -2.9 0zM316.04 222.41a1.45 1.45 0 1 0 2.9 0a1.45 1.45 0 1 0 -2.9 0zM313.04 223.9a1.45 1.45 0 1 0 2.9 0a1.45 1.45 0 1 0 -2.9 0zM310.21 225.32a1.45 1.45 0 1 0 2.9 0a1.45 1.45 0 1 0 -2.9 0zM307.53 226.67a1.45 1.45 0 1 0 2.9 0a1.45 1.45 0 1 0 -2.9 0zM305 227.96a1.45 1.45 0 1 0 2.9 0a1.45 1.45 0 1 0 -2.9 0zM302.6 229.17a1.45 1.45 0 1 0 2.9 0a1.45 1.45 0 1 0 -2.9 0zM300.32 230.3a1.45 1.45 0 1 0 2.9 0a1.45 1.45 0 1 0 -2.9 0zM298.16 231.37a1.45 1.45 0 1 0 2.9 0a1.45 1.45 0 1 0 -2.9 0zM296.13 232.39a1.45 1.45 0 1 0 2.9 0a1.45 1.45 0 1 0 -2.9 0zM294.19 233.4a1.45 1.45 0 1 0 2.9 0a1.45 1.45 0 1 0 -2.9 0zM292.33 234.38a1.45 1.45 0 1 0 2.9 0a1.45 1.45 0 1 0 -2.9 0zM290.56 235.34a1.45 1.45 0 1 0 2.9 0a1.45 1.45 0 1 0 -2.9 0zM288.88 236.27a1.45 1.45 0 1 0 2.9 0a1.45 1.45 0 1 0 -2.9 0zM287.29 237.22a1.45 1.45 0 1 0 2.9 0a1.45 1.45 0 1 0 -2.9 0zM285.79 238.16a1.45 1.45 0 1 0 2.9 0a1.45 1.45 0 1 0 -2.9 0zM284.37 239.11a1.45 1.45 0 1 0 2.9 0a1.45 1.45 0 1 0 -2.9 0zM283.05 240.08a1.45 1.45 0 1 0 2.9 0a1.45 1.45 0 1 0 -2.9 0zM281.83 241.06a1.45 1.45 0 1 0 2.9 0a1.45 1.45 0 1 0 -2.9 0zM280.72 242.07a1.45 1.45 0 1 0 2.9 0a1.45 1.45 0 1 0 -2.9 0zM279.73 243.1a1.45 1.45 0 1 0 2.9 0a1.45 1.45 0 1 0 -2.9 0zM278.85 244.15a1.45 1.45 0 1 0 2.9 0a1.45 1.45 0 1 0 -2.9 0zM278.06 245.21a1.45 1.45 0 1 0 2.9 0a1.45 1.45 0 1 0 -2.9 0zM277.35 246.26a1.45 1.45 0 1 0 2.9 0a1.45 1.45 0 1 0 -2.9 0zM276.74 247.32a1.45 1.45 0 1 0 2.9 0a1.45 1.45 0 1 0 -2.9 0zM276.2 248.39a1.45 1.45 0 1 0 2.9 0a1.45 1.45 0 1 0 -2.9 0zM275.71 249.44a1.45 1.45 0 1 0 2.9 0a1.45 1.45 0 1 0 -2.9 0zM275.24 250.46a1.45 1.45 0 1 0 2.9 0a1.45 1.45 0 1 0 -2.9 0zM274.79 251.47a1.45 1.45 0 1 0 2.9 0a1.45 1.45 0 1 0 -2.9 0zM274.37 252.46a1.45 1.45 0 1 0 2.9 0a1.45 1.45 0 1 0 -2.9 0zM273.97 253.43a1.45 1.45 0 1 0 2.9 0a1.45 1.45 0 1 0 -2.9 0zM273.59 254.38a1.45 1.45 0 1 0 2.9 0a1.45 1.45 0 1 0 -2.9 0zM273.22 255.31a1.45 1.45 0 1 0 2.9 0a1.45 1.45 0 1 0 -2.9 0zM272.85 256.24a1.45 1.45 0 1 0 2.9 0a1.45 1.45 0 1 0 -2.9 0zM272.48 257.17a1.45 1.45 0 1 0 2.9 0a1.45 1.45 0 1 0 -2.9 0zM272.11 258.1a1.45 1.45 0 1 0 2.9 0a1.45 1.45 0 1 0 -2.9 0zM271.75 259.03a1.45 1.45 0 1 0 2.9 0a1.45 1.45 0 1 0 -2.9 0zM271.38 259.96a1.45 1.45 0 1 0 2.9 0a1.45 1.45 0 1 0 -2.9 0zM271.03 260.9a1.45 1.45 0 1 0 2.9 0a1.45 1.45 0 1 0 -2.9 0zM270.69 261.84a1.45 1.45 0 1 0 2.9 0a1.45 1.45 0 1 0 -2.9 0zM270.37 262.79a1.45 1.45 0 1 0 2.9 0a1.45 1.45 0 1 0 -2.9 0zM270.19 263.36a1.45 1.45 0 1 0 2.9 0a1.45 1.45 0 1 0 -2.9 0zM270.02 263.94a1.45 1.45 0 1 0 2.9 0a1.45 1.45 0 1 0 -2.9 0zM269.85 264.51a1.45 1.45 0 1 0 2.9 0a1.45 1.45 0 1 0 -2.9 0zM269.69 265.09a1.45 1.45 0 1 0 2.9 0a1.45 1.45 0 1 0 -2.9 0zM269.53 265.67a1.45 1.45 0 1 0 2.9 0a1.45 1.45 0 1 0 -2.9 0zM269.38 266.25a1.45 1.45 0 1 0 2.9 0a1.45 1.45 0 1 0 -2.9 0zM269.23 266.83a1.45 1.45 0 1 0 2.9 0a1.45 1.45 0 1 0 -2.9 0zM269.1 267.41a1.45 1.45 0 1 0 2.9 0a1.45 1.45 0 1 0 -2.9 0zM268.97 268a1.45 1.45 0 1 0 2.9 0a1.45 1.45 0 1 0 -2.9 0zM268.85 268.59a1.45 1.45 0 1 0 2.9 0a1.45 1.45 0 1 0 -2.9 0zM268.75 269.18a1.45 1.45 0 1 0 2.9 0a1.45 1.45 0 1 0 -2.9 0zM268.65 269.77a1.45 1.45 0 1 0 2.9 0a1.45 1.45 0 1 0 -2.9 0zM268.57 270.37a1.45 1.45 0 1 0 2.9 0a1.45 1.45 0 1 0 -2.9 0zM268.5 270.96a1.45 1.45 0 1 0 2.9 0a1.45 1.45 0 1 0 -2.9 0zM268.44 271.56a1.45 1.45 0 1 0 2.9 0a1.45 1.45 0 1 0 -2.9 0zM268.39 272.16a1.45 1.45 0 1 0 2.9 0a1.45 1.45 0 1 0 -2.9 0zM268.35 272.76a1.45 1.45 0 1 0 2.9 0a1.45 1.45 0 1 0 -2.9 0zM268.32 273.35a1.45 1.45 0 1 0 2.9 0a1.45 1.45 0 1 0 -2.9 0zM268.3 273.95a1.45 1.45 0 1 0 2.9 0a1.45 1.45 0 1 0 -2.9 0zM268.28 274.55a1.45 1.45 0 1 0 2.9 0a1.45 1.45 0 1 0 -2.9 0zM268.28 275.15a1.45 1.45 0 1 0 2.9 0a1.45 1.45 0 1 0 -2.9 0zM268.28 275.75a1.45 1.45 0 1 0 2.9 0a1.45 1.45 0 1 0 -2.9 0zM268.29 276.35a1.45 1.45 0 1 0 2.9 0a1.45 1.45 0 1 0 -2.9 0zM268.3 276.95a1.45 1.45 0 1 0 2.9 0a1.45 1.45 0 1 0 -2.9 0zM268.33 277.55a1.45 1.45 0 1 0 2.9 0a1.45 1.45 0 1 0 -2.9 0zM268.36 278.15a1.45 1.45 0 1 0 2.9 0a1.45 1.45 0 1 0 -2.9 0zM268.4 278.75a1.45 1.45 0 1 0 2.9 0a1.45 1.45 0 1 0 -2.9 0zM268.44 279.35a1.45 1.45 0 1 0 2.9 0a1.45 1.45 0 1 0 -2.9 0zM268.5 279.95a1.45 1.45 0 1 0 2.9 0a1.45 1.45 0 1 0 -2.9 0zM268.56 280.54a1.45 1.45 0 1 0 2.9 0a1.45 1.45 0 1 0 -2.9 0zM268.63 281.14a1.45 1.45 0 1 0 2.9 0a1.45 1.45 0 1 0 -2.9 0zM268.71 281.73a1.45 1.45 0 1 0 2.9 0a1.45 1.45 0 1 0 -2.9 0zM268.8 282.33a1.45 1.45 0 1 0 2.9 0a1.45 1.45 0 1 0 -2.9 0zM268.9 282.92a1.45 1.45 0 1 0 2.9 0a1.45 1.45 0 1 0 -2.9 0zM269.01 283.51a1.45 1.45 0 1 0 2.9 0a1.45 1.45 0 1 0 -2.9 0zM269.13 284.1a1.45 1.45 0 1 0 2.9 0a1.45 1.45 0 1 0 -2.9 0zM269.27 284.68a1.45 1.45 0 1 0 2.9 0a1.45 1.45 0 1 0 -2.9 0zM269.42 285.26a1.45 1.45 0 1 0 2.9 0a1.45 1.45 0 1 0 -2.9 0zM269.58 285.84a1.45 1.45 0 1 0 2.9 0a1.45 1.45 0 1 0 -2.9 0zM269.76 286.41a1.45 1.45 0 1 0 2.9 0a1.45 1.45 0 1 0 -2.9 0zM269.95 286.98a1.45 1.45 0 1 0 2.9 0a1.45 1.45 0 1 0 -2.9 0zM270.15 287.55a1.45 1.45 0 1 0 2.9 0a1.45 1.45 0 1 0 -2.9 0zM270.36 288.11a1.45 1.45 0 1 0 2.9 0a1.45 1.45 0 1 0 -2.9 0zM270.58 288.66a1.45 1.45 0 1 0 2.9 0a1.45 1.45 0 1 0 -2.9 0zM270.82 289.22a1.45 1.45 0 1 0 2.9 0a1.45 1.45 0 1 0 -2.9 0zM271.06 289.77a1.45 1.45 0 1 0 2.9 0a1.45 1.45 0 1 0 -2.9 0zM271.31 290.32a1.45 1.45 0 1 0 2.9 0a1.45 1.45 0 1 0 -2.9 0zM271.58 290.87a1.45 1.45 0 1 0 2.9 0a1.45 1.45 0 1 0 -2.9 0zM271.86 291.41a1.45 1.45 0 1 0 2.9 0a1.45 1.45 0 1 0 -2.9 0zM272.15 291.95a1.45 1.45 0 1 0 2.9 0a1.45 1.45 0 1 0 -2.9 0zM272.45 292.49a1.45 1.45 0 1 0 2.9 0a1.45 1.45 0 1 0 -2.9 0zM272.77 293.02a1.45 1.45 0 1 0 2.9 0a1.45 1.45 0 1 0 -2.9 0zM273.1 293.55a1.45 1.45 0 1 0 2.9 0a1.45 1.45 0 1 0 -2.9 0zM273.45 294.08a1.45 1.45 0 1 0 2.9 0a1.45 1.45 0 1 0 -2.9 0zM273.8 294.6a1.45 1.45 0 1 0 2.9 0a1.45 1.45 0 1 0 -2.9 0zM274.17 295.12a1.45 1.45 0 1 0 2.9 0a1.45 1.45 0 1 0 -2.9 0zM274.54 295.64a1.45 1.45 0 1 0 2.9 0a1.45 1.45 0 1 0 -2.9 0zM274.92 296.16a1.45 1.45 0 1 0 2.9 0a1.45 1.45 0 1 0 -2.9 0zM275.31 296.68a1.45 1.45 0 1 0 2.9 0a1.45 1.45 0 1 0 -2.9 0zM275.71 297.2a1.45 1.45 0 1 0 2.9 0a1.45 1.45 0 1 0 -2.9 0zM276.11 297.72a1.45 1.45 0 1 0 2.9 0a1.45 1.45 0 1 0 -2.9 0zM276.53 298.23a1.45 1.45 0 1 0 2.9 0a1.45 1.45 0 1 0 -2.9 0zM276.96 298.74a1.45 1.45 0 1 0 2.9 0a1.45 1.45 0 1 0 -2.9 0zM277.4 299.25a1.45 1.45 0 1 0 2.9 0a1.45 1.45 0 1 0 -2.9 0zM277.85 299.75a1.45 1.45 0 1 0 2.9 0a1.45 1.45 0 1 0 -2.9 0zM278.31 300.25a1.45 1.45 0 1 0 2.9 0a1.45 1.45 0 1 0 -2.9 0zM278.79 300.74a1.45 1.45 0 1 0 2.9 0a1.45 1.45 0 1 0 -2.9 0zM279.28 301.23a1.45 1.45 0 1 0 2.9 0a1.45 1.45 0 1 0 -2.9 0zM279.78 301.72a1.45 1.45 0 1 0 2.9 0a1.45 1.45 0 1 0 -2.9 0zM280.31 302.22a1.45 1.45 0 1 0 2.9 0a1.45 1.45 0 1 0 -2.9 0zM280.91 302.76a1.45 1.45 0 1 0 2.9 0a1.45 1.45 0 1 0 -2.9 0zM281.59 303.34a1.45 1.45 0 1 0 2.9 0a1.45 1.45 0 1 0 -2.9 0zM282.35 303.96a1.45 1.45 0 1 0 2.9 0a1.45 1.45 0 1 0 -2.9 0zM283.22 304.62a1.45 1.45 0 1 0 2.9 0a1.45 1.45 0 1 0 -2.9 0zM284.22 305.31a1.45 1.45 0 1 0 2.9 0a1.45 1.45 0 1 0 -2.9 0zM285.4 305.97a1.45 1.45 0 1 0 2.9 0a1.45 1.45 0 1 0 -2.9 0zM286.83 306.63a1.45 1.45 0 1 0 2.9 0a1.45 1.45 0 1 0 -2.9 0zM288.35 307.3a1.45 1.45 0 1 0 2.9 0a1.45 1.45 0 1 0 -2.9 0z" fill="none" stroke="#4f9dbf" stroke-width="0.9"/>
<path d="M289.6 307.9a1.9 1.9 0 1 0 3.8 0a1.9 1.9 0 1 0 -3.8 0zM293.3 309.6a1.9 1.9 0 1 0 3.8 0a1.9 1.9 0 1 0 -3.8 0zM297.8 310.9a1.9 1.9 0 1 0 3.8 0a1.9 1.9 0 1 0 -3.8 0zM303.8 312.2a1.9 1.9 0 1 0 3.8 0a1.9 1.9 0 1 0 -3.8 0zM311.3 313.7a1.9 1.9 0 1 0 3.8 0a1.9 1.9 0 1 0 -3.8 0zM321.4 314.8a1.9 1.9 0 1 0 3.8 0a1.9 1.9 0 1 0 -3.8 0zM335.8 316.4a1.9 1.9 0 1 0 3.8 0a1.9 1.9 0 1 0 -3.8 0z" fill="#4f9dbf"/>
<path d="M326 218.05l1.75 1.75l-1.75 1.75l-1.75 -1.75zM323.18 219.56l1.75 1.75l-1.75 1.75l-1.75 -1.75zM320.61 221.18l1.75 1.75l-1.75 1.75l-1.75 -1.75zM318.26 222.87l1.75 1.75l-1.75 1.75l-1.75 -1.75zM316 224.45l1.75 1.75l-1.75 1.75l-1.75 -1.75zM313.85 225.95l1.75 1.75l-1.75 1.75l-1.75 -1.75zM311.8 227.39l1.75 1.75l-1.75 1.75l-1.75 -1.75zM309.86 228.78l1.75 1.75l-1.75 1.75l-1.75 -1.75zM308.03 230.1l1.75 1.75l-1.75 1.75l-1.75 -1.75zM306.29 231.35l1.75 1.75l-1.75 1.75l-1.75 -1.75zM304.64 232.51l1.75 1.75l-1.75 1.75l-1.75 -1.75zM303.05 233.57l1.75 1.75l-1.75 1.75l-1.75 -1.75zM301.5 234.5l1.75 1.75l-1.75 1.75l-1.75 -1.75zM300.04 235.36l1.75 1.75l-1.75 1.75l-1.75 -1.75zM298.71 236.26l1.75 1.75l-1.75 1.75l-1.75 -1.75zM297.5 237.17l1.75 1.75l-1.75 1.75l-1.75 -1.75zM296.37 238.08l1.75 1.75l-1.75 1.75l-1.75 -1.75zM295.32 238.99l1.75 1.75l-1.75 1.75l-1.75 -1.75zM294.36 239.89l1.75 1.75l-1.75 1.75l-1.75 -1.75zM293.46 240.78l1.75 1.75l-1.75 1.75l-1.75 -1.75zM292.64 241.66l1.75 1.75l-1.75 1.75l-1.75 -1.75zM291.89 242.54l1.75 1.75l-1.75 1.75l-1.75 -1.75zM291.22 243.43l1.75 1.75l-1.75 1.75l-1.75 -1.75zM290.63 244.33l1.75 1.75l-1.75 1.75l-1.75 -1.75zM290.11 245.23l1.75 1.75l-1.75 1.75l-1.75 -1.75zM289.64 246.12l1.75 1.75l-1.75 1.75l-1.75 -1.75zM289.22 247.02l1.75 1.75l-1.75 1.75l-1.75 -1.75zM288.82 247.94l1.75 1.75l-1.75 1.75l-1.75 -1.75zM288.46 248.87l1.75 1.75l-1.75 1.75l-1.75 -1.75zM288.12 249.81l1.75 1.75l-1.75 1.75l-1.75 -1.75zM287.82 250.77l1.75 1.75l-1.75 1.75l-1.75 -1.75zM287.55 251.73l1.75 1.75l-1.75 1.75l-1.75 -1.75zM287.31 252.7l1.75 1.75l-1.75 1.75l-1.75 -1.75zM287.11 253.68l1.75 1.75l-1.75 1.75l-1.75 -1.75zM286.93 254.66l1.75 1.75l-1.75 1.75l-1.75 -1.75zM286.79 255.65l1.75 1.75l-1.75 1.75l-1.75 -1.75zM286.68 256.65l1.75 1.75l-1.75 1.75l-1.75 -1.75zM286.63 257.19l1.75 1.75l-1.75 1.75l-1.75 -1.75zM286.59 257.74l1.75 1.75l-1.75 1.75l-1.75 -1.75zM286.55 258.29l1.75 1.75l-1.75 1.75l-1.75 -1.75zM286.53 258.84l1.75 1.75l-1.75 1.75l-1.75 -1.75zM286.51 259.39l1.75 1.75l-1.75 1.75l-1.75 -1.75zM286.5 259.94l1.75 1.75l-1.75 1.75l-1.75 -1.75zM286.5 260.49l1.75 1.75l-1.75 1.75l-1.75 -1.75zM286.51 261.04l1.75 1.75l-1.75 1.75l-1.75 -1.75zM286.53 261.59l1.75 1.75l-1.75 1.75l-1.75 -1.75zM286.55 262.14l1.75 1.75l-1.75 1.75l-1.75 -1.75zM286.59 262.69l1.75 1.75l-1.75 1.75l-1.75 -1.75zM286.63 263.24l1.75 1.75l-1.75 1.75l-1.75 -1.75zM286.68 263.78l1.75 1.75l-1.75 1.75l-1.75 -1.75zM286.74 264.33l1.75 1.75l-1.75 1.75l-1.75 -1.75zM286.81 264.88l1.75 1.75l-1.75 1.75l-1.75 -1.75zM286.88 265.42l1.75 1.75l-1.75 1.75l-1.75 -1.75zM286.96 265.97l1.75 1.75l-1.75 1.75l-1.75 -1.75zM287.04 266.51l1.75 1.75l-1.75 1.75l-1.75 -1.75zM287.13 267.05l1.75 1.75l-1.75 1.75l-1.75 -1.75zM287.22 267.6l1.75 1.75l-1.75 1.75l-1.75 -1.75zM287.32 268.14l1.75 1.75l-1.75 1.75l-1.75 -1.75zM287.42 268.68l1.75 1.75l-1.75 1.75l-1.75 -1.75zM287.52 269.22l1.75 1.75l-1.75 1.75l-1.75 -1.75zM287.63 269.76l1.75 1.75l-1.75 1.75l-1.75 -1.75zM287.75 270.29l1.75 1.75l-1.75 1.75l-1.75 -1.75zM287.87 270.83l1.75 1.75l-1.75 1.75l-1.75 -1.75zM288 271.37l1.75 1.75l-1.75 1.75l-1.75 -1.75zM288.13 271.9l1.75 1.75l-1.75 1.75l-1.75 -1.75zM288.27 272.43l1.75 1.75l-1.75 1.75l-1.75 -1.75zM288.42 272.96l1.75 1.75l-1.75 1.75l-1.75 -1.75zM288.57 273.49l1.75 1.75l-1.75 1.75l-1.75 -1.75zM288.73 274.02l1.75 1.75l-1.75 1.75l-1.75 -1.75zM288.9 274.55l1.75 1.75l-1.75 1.75l-1.75 -1.75zM289.07 275.08l1.75 1.75l-1.75 1.75l-1.75 -1.75zM289.25 275.6l1.75 1.75l-1.75 1.75l-1.75 -1.75zM289.43 276.12l1.75 1.75l-1.75 1.75l-1.75 -1.75zM289.63 276.65l1.75 1.75l-1.75 1.75l-1.75 -1.75zM289.83 277.16l1.75 1.75l-1.75 1.75l-1.75 -1.75zM290.04 277.68l1.75 1.75l-1.75 1.75l-1.75 -1.75zM290.26 278.19l1.75 1.75l-1.75 1.75l-1.75 -1.75zM290.49 278.7l1.75 1.75l-1.75 1.75l-1.75 -1.75zM290.73 279.21l1.75 1.75l-1.75 1.75l-1.75 -1.75zM290.98 279.71l1.75 1.75l-1.75 1.75l-1.75 -1.75zM291.24 280.21l1.75 1.75l-1.75 1.75l-1.75 -1.75zM291.52 280.7l1.75 1.75l-1.75 1.75l-1.75 -1.75zM291.8 281.19l1.75 1.75l-1.75 1.75l-1.75 -1.75zM292.09 281.68l1.75 1.75l-1.75 1.75l-1.75 -1.75zM292.38 282.16l1.75 1.75l-1.75 1.75l-1.75 -1.75zM292.69 282.64l1.75 1.75l-1.75 1.75l-1.75 -1.75zM293.01 283.11l1.75 1.75l-1.75 1.75l-1.75 -1.75zM293.33 283.58l1.75 1.75l-1.75 1.75l-1.75 -1.75zM293.66 284.05l1.75 1.75l-1.75 1.75l-1.75 -1.75zM294 284.51l1.75 1.75l-1.75 1.75l-1.75 -1.75zM294.36 284.96l1.75 1.75l-1.75 1.75l-1.75 -1.75zM294.72 285.41l1.75 1.75l-1.75 1.75l-1.75 -1.75zM295.09 285.85l1.75 1.75l-1.75 1.75l-1.75 -1.75zM295.48 286.28l1.75 1.75l-1.75 1.75l-1.75 -1.75zM295.88 286.71l1.75 1.75l-1.75 1.75l-1.75 -1.75zM296.29 287.12l1.75 1.75l-1.75 1.75l-1.75 -1.75zM296.72 287.52l1.75 1.75l-1.75 1.75l-1.75 -1.75zM297.15 287.91l1.75 1.75l-1.75 1.75l-1.75 -1.75zM297.59 288.3l1.75 1.75l-1.75 1.75l-1.75 -1.75zM298.04 288.68l1.75 1.75l-1.75 1.75l-1.75 -1.75zM298.5 289.06l1.75 1.75l-1.75 1.75l-1.75 -1.75zM298.96 289.43l1.75 1.75l-1.75 1.75l-1.75 -1.75zM299.43 289.8l1.75 1.75l-1.75 1.75l-1.75 -1.75zM299.9 290.17l1.75 1.75l-1.75 1.75l-1.75 -1.75zM300.37 290.54l1.75 1.75l-1.75 1.75l-1.75 -1.75zM300.87 290.91l1.75 1.75l-1.75 1.75l-1.75 -1.75zM301.4 291.29l1.75 1.75l-1.75 1.75l-1.75 -1.75zM301.95 291.68l1.75 1.75l-1.75 1.75l-1.75 -1.75zM302.54 292.07l1.75 1.75l-1.75 1.75l-1.75 -1.75zM303.16 292.47l1.75 1.75l-1.75 1.75l-1.75 -1.75zM303.83 292.88l1.75 1.75l-1.75 1.75l-1.75 -1.75zM304.53 293.29l1.75 1.75l-1.75 1.75l-1.75 -1.75zM305.27 293.7l1.75 1.75l-1.75 1.75l-1.75 -1.75zM306.07 294.1l1.75 1.75l-1.75 1.75l-1.75 -1.75zM306.92 294.5l1.75 1.75l-1.75 1.75l-1.75 -1.75zM307.82 294.89l1.75 1.75l-1.75 1.75l-1.75 -1.75zM308.78 295.28l1.75 1.75l-1.75 1.75l-1.75 -1.75zM309.79 295.67l1.75 1.75l-1.75 1.75l-1.75 -1.75zM310.93 296.08l1.75 1.75l-1.75 1.75l-1.75 -1.75zM312.24 296.48l1.75 1.75l-1.75 1.75l-1.75 -1.75zM313.74 296.9l1.75 1.75l-1.75 1.75l-1.75 -1.75z" fill="none" stroke="#8f9196" stroke-width="0.9"/>
<path d="M317.6 297.7l2.4 2.4l-2.4 2.4l-2.4 -2.4zM321.3 299.1l2.4 2.4l-2.4 2.4l-2.4 -2.4zM325 300.5l2.4 2.4l-2.4 2.4l-2.4 -2.4zM329.6 301.6l2.4 2.4l-2.4 2.4l-2.4 -2.4zM335.1 303.2l2.4 2.4l-2.4 2.4l-2.4 -2.4z" fill="#8f9196"/>
<text x="205.9" y="203.4" class="ti">(<tspan font-style="italic" dx="0.6">f</tspan><tspan dx="3.0">)</tspan> <tspan font-style="italic" dx="-0.3">T</tspan><tspan dx="1.2">=</tspan><tspan dx="0.7" letter-spacing="0.6">0.4</tspan></text>
<text x="301.6" y="268.1" class="xn"><tspan font-style="italic">&#x1E8B;</tspan><tspan dx="0.6">&lt;</tspan><tspan dx="0.8">0</tspan></text>
<rect x="365.2" y="186.4" width="139.8" height="4.4" rx="1" fill="#898a8e"/>
<path d="M367.8 280.3h3.8v3.8h-3.8zM370.16 278.98h3.8v3.8h-3.8zM372.52 277.67h3.8v3.8h-3.8zM374.89 276.35h3.8v3.8h-3.8zM377.26 275.04h3.8v3.8h-3.8zM379.65 273.73h3.8v3.8h-3.8zM382.04 272.43h3.8v3.8h-3.8zM384.43 271.12h3.8v3.8h-3.8zM386.81 269.78h3.8v3.8h-3.8zM389.18 268.4h3.8v3.8h-3.8zM391.52 266.98h3.8v3.8h-3.8zM393.86 265.54h3.8v3.8h-3.8zM396.2 264.1h3.8v3.8h-3.8zM398.53 262.63h3.8v3.8h-3.8zM400.84 261.11h3.8v3.8h-3.8zM403.12 259.54h3.8v3.8h-3.8zM405.39 257.95h3.8v3.8h-3.8zM407.65 256.35h3.8v3.8h-3.8zM409.91 254.73h3.8v3.8h-3.8zM412.17 253.1h3.8v3.8h-3.8zM414.41 251.45h3.8v3.8h-3.8zM416.66 249.79h3.8v3.8h-3.8zM418.92 248.14h3.8v3.8h-3.8zM421.22 246.51h3.8v3.8h-3.8zM423.57 244.88h3.8v3.8h-3.8zM425.97 243.24h3.8v3.8h-3.8zM428.43 241.59h3.8v3.8h-3.8zM430.95 239.95h3.8v3.8h-3.8zM433.54 238.34h3.8v3.8h-3.8zM436.22 236.75h3.8v3.8h-3.8zM438.97 235.19h3.8v3.8h-3.8zM441.8 233.64h3.8v3.8h-3.8zM444.73 232.1h3.8v3.8h-3.8zM447.75 230.55h3.8v3.8h-3.8zM450.88 229h3.8v3.8h-3.8zM454.11 227.46h3.8v3.8h-3.8zM457.47 225.94h3.8v3.8h-3.8zM460.94 224.45h3.8v3.8h-3.8zM464.6 222.97h3.8v3.8h-3.8zM468.46 221.52h3.8v3.8h-3.8zM472.54 220.13h3.8v3.8h-3.8zM476.86 218.79h3.8v3.8h-3.8zM481.41 217.47h3.8v3.8h-3.8zM486.31 216.23h3.8v3.8h-3.8zM491.6 215.1h3.8v3.8h-3.8zM497.32 214.05h3.8v3.8h-3.8zM499.3 213.7h3.8v3.8h-3.8z" fill="none" stroke="#e9303a" stroke-width="0.9"/>
<path d="M499.15 222a1.45 1.45 0 1 0 2.9 0a1.45 1.45 0 1 0 -2.9 0zM495.65 223.6a1.45 1.45 0 1 0 2.9 0a1.45 1.45 0 1 0 -2.9 0zM492.65 224.9a1.45 1.45 0 1 0 2.9 0a1.45 1.45 0 1 0 -2.9 0zM489.75 226.2a1.45 1.45 0 1 0 2.9 0a1.45 1.45 0 1 0 -2.9 0zM487.15 227.4a1.45 1.45 0 1 0 2.9 0a1.45 1.45 0 1 0 -2.9 0zM484.65 228.7a1.45 1.45 0 1 0 2.9 0a1.45 1.45 0 1 0 -2.9 0z" fill="none" stroke="#4f9dbf" stroke-width="0.9"/>
<path d="M482.15 230.2a1.65 1.65 0 1 0 3.3 0a1.65 1.65 0 1 0 -3.3 0zM480.42 231.2a1.65 1.65 0 1 0 3.3 0a1.65 1.65 0 1 0 -3.3 0zM478.9 232.13a1.65 1.65 0 1 0 3.3 0a1.65 1.65 0 1 0 -3.3 0zM477.61 233.05a1.65 1.65 0 1 0 3.3 0a1.65 1.65 0 1 0 -3.3 0zM476.54 233.96a1.65 1.65 0 1 0 3.3 0a1.65 1.65 0 1 0 -3.3 0zM475.67 234.86a1.65 1.65 0 1 0 3.3 0a1.65 1.65 0 1 0 -3.3 0zM474.96 235.72a1.65 1.65 0 1 0 3.3 0a1.65 1.65 0 1 0 -3.3 0zM474.36 236.52a1.65 1.65 0 1 0 3.3 0a1.65 1.65 0 1 0 -3.3 0zM473.82 237.29a1.65 1.65 0 1 0 3.3 0a1.65 1.65 0 1 0 -3.3 0zM473.33 238.04a1.65 1.65 0 1 0 3.3 0a1.65 1.65 0 1 0 -3.3 0zM472.86 238.81a1.65 1.65 0 1 0 3.3 0a1.65 1.65 0 1 0 -3.3 0zM472.41 239.59a1.65 1.65 0 1 0 3.3 0a1.65 1.65 0 1 0 -3.3 0zM471.95 240.36a1.65 1.65 0 1 0 3.3 0a1.65 1.65 0 1 0 -3.3 0zM471.54 241.16a1.65 1.65 0 1 0 3.3 0a1.65 1.65 0 1 0 -3.3 0zM471.18 241.99a1.65 1.65 0 1 0 3.3 0a1.65 1.65 0 1 0 -3.3 0zM470.89 242.84a1.65 1.65 0 1 0 3.3 0a1.65 1.65 0 1 0 -3.3 0zM470.64 243.7a1.65 1.65 0 1 0 3.3 0a1.65 1.65 0 1 0 -3.3 0zM470.39 244.57a1.65 1.65 0 1 0 3.3 0a1.65 1.65 0 1 0 -3.3 0zM470.16 245.44a1.65 1.65 0 1 0 3.3 0a1.65 1.65 0 1 0 -3.3 0zM469.93 246.31a1.65 1.65 0 1 0 3.3 0a1.65 1.65 0 1 0 -3.3 0zM469.73 247.19a1.65 1.65 0 1 0 3.3 0a1.65 1.65 0 1 0 -3.3 0zM469.55 248.07a1.65 1.65 0 1 0 3.3 0a1.65 1.65 0 1 0 -3.3 0zM469.39 248.95a1.65 1.65 0 1 0 3.3 0a1.65 1.65 0 1 0 -3.3 0zM469.27 249.84a1.65 1.65 0 1 0 3.3 0a1.65 1.65 0 1 0 -3.3 0zM469.18 250.74a1.65 1.65 0 1 0 3.3 0a1.65 1.65 0 1 0 -3.3 0zM469.15 251.64a1.65 1.65 0 1 0 3.3 0a1.65 1.65 0 1 0 -3.3 0zM469.17 252.54a1.65 1.65 0 1 0 3.3 0a1.65 1.65 0 1 0 -3.3 0zM469.23 253.44a1.65 1.65 0 1 0 3.3 0a1.65 1.65 0 1 0 -3.3 0zM469.32 254.33a1.65 1.65 0 1 0 3.3 0a1.65 1.65 0 1 0 -3.3 0zM469.45 255.22a1.65 1.65 0 1 0 3.3 0a1.65 1.65 0 1 0 -3.3 0zM469.62 256.11a1.65 1.65 0 1 0 3.3 0a1.65 1.65 0 1 0 -3.3 0zM469.81 256.99a1.65 1.65 0 1 0 3.3 0a1.65 1.65 0 1 0 -3.3 0zM470.04 257.86a1.65 1.65 0 1 0 3.3 0a1.65 1.65 0 1 0 -3.3 0zM470.32 258.71a1.65 1.65 0 1 0 3.3 0a1.65 1.65 0 1 0 -3.3 0zM470.62 259.56a1.65 1.65 0 1 0 3.3 0a1.65 1.65 0 1 0 -3.3 0zM470.96 260.39a1.65 1.65 0 1 0 3.3 0a1.65 1.65 0 1 0 -3.3 0zM471.33 261.21a1.65 1.65 0 1 0 3.3 0a1.65 1.65 0 1 0 -3.3 0zM471.74 262.02a1.65 1.65 0 1 0 3.3 0a1.65 1.65 0 1 0 -3.3 0zM472.17 262.8a1.65 1.65 0 1 0 3.3 0a1.65 1.65 0 1 0 -3.3 0zM472.63 263.58a1.65 1.65 0 1 0 3.3 0a1.65 1.65 0 1 0 -3.3 0zM473.12 264.33a1.65 1.65 0 1 0 3.3 0a1.65 1.65 0 1 0 -3.3 0zM473.63 265.08a1.65 1.65 0 1 0 3.3 0a1.65 1.65 0 1 0 -3.3 0zM474.16 265.8a1.65 1.65 0 1 0 3.3 0a1.65 1.65 0 1 0 -3.3 0zM474.71 266.51a1.65 1.65 0 1 0 3.3 0a1.65 1.65 0 1 0 -3.3 0zM475.29 267.2a1.65 1.65 0 1 0 3.3 0a1.65 1.65 0 1 0 -3.3 0zM475.89 267.87a1.65 1.65 0 1 0 3.3 0a1.65 1.65 0 1 0 -3.3 0zM476.53 268.51a1.65 1.65 0 1 0 3.3 0a1.65 1.65 0 1 0 -3.3 0zM477.19 269.12a1.65 1.65 0 1 0 3.3 0a1.65 1.65 0 1 0 -3.3 0zM477.87 269.71a1.65 1.65 0 1 0 3.3 0a1.65 1.65 0 1 0 -3.3 0zM478.57 270.28a1.65 1.65 0 1 0 3.3 0a1.65 1.65 0 1 0 -3.3 0zM479.28 270.82a1.65 1.65 0 1 0 3.3 0a1.65 1.65 0 1 0 -3.3 0zM480.01 271.35a1.65 1.65 0 1 0 3.3 0a1.65 1.65 0 1 0 -3.3 0zM480.75 271.87a1.65 1.65 0 1 0 3.3 0a1.65 1.65 0 1 0 -3.3 0zM481.49 272.37a1.65 1.65 0 1 0 3.3 0a1.65 1.65 0 1 0 -3.3 0zM482.24 272.87a1.65 1.65 0 1 0 3.3 0a1.65 1.65 0 1 0 -3.3 0zM483.01 273.34a1.65 1.65 0 1 0 3.3 0a1.65 1.65 0 1 0 -3.3 0zM483.79 273.79a1.65 1.65 0 1 0 3.3 0a1.65 1.65 0 1 0 -3.3 0zM484.59 274.2a1.65 1.65 0 1 0 3.3 0a1.65 1.65 0 1 0 -3.3 0zM485.41 274.61a1.65 1.65 0 1 0 3.3 0a1.65 1.65 0 1 0 -3.3 0zM486.34 275.05a1.65 1.65 0 1 0 3.3 0a1.65 1.65 0 1 0 -3.3 0zM487.38 275.51a1.65 1.65 0 1 0 3.3 0a1.65 1.65 0 1 0 -3.3 0zM488.53 276.02a1.65 1.65 0 1 0 3.3 0a1.65 1.65 0 1 0 -3.3 0zM489.35 276.4a1.65 1.65 0 1 0 3.3 0a1.65 1.65 0 1 0 -3.3 0z" fill="none" stroke="#4f9dbf" stroke-width="0.9"/>
<path d="M493.2 277.8a1.9 1.9 0 1 0 3.8 0a1.9 1.9 0 1 0 -3.8 0zM497.1 279.5a1.9 1.9 0 1 0 3.8 0a1.9 1.9 0 1 0 -3.8 0zM500.8 280.9a1.9 1.9 0 1 0 3.8 0a1.9 1.9 0 1 0 -3.8 0z" fill="#4f9dbf"/>
<text x="369.7" y="203.2" class="ti">(<tspan font-style="italic">g</tspan>) <tspan font-style="italic" dx="0.4">T</tspan><tspan dx="1.2">=</tspan><tspan dx="0.7" letter-spacing="0.6">0.6</tspan></text>
<text x="477.3" y="261.2" class="xn"><tspan font-style="italic">&#x1E8B;</tspan><tspan dx="0.6">&lt;</tspan><tspan dx="0.8">0</tspan></text>
<rect x="530.2" y="186.4" width="139.8" height="4.4" rx="1" fill="#898a8e"/>
<path d="M531 213.8L531.57 213.74L532.31 213.67L533.17 213.58L534.16 213.49L535.23 213.38L536.38 213.26L537.58 213.13L538.8 213L540.08 212.85L541.45 212.69L542.89 212.51L544.39 212.32L545.94 212.14L547.52 211.95L549.11 211.77L550.7 211.6L552.31 211.44L553.95 211.29L555.62 211.15L557.32 211.01L559.03 210.86L560.75 210.72L562.48 210.56L564.2 210.4L565.91 210.23L567.62 210.04L569.32 209.85L571.04 209.66L572.77 209.46L574.54 209.27L576.35 209.08L578.2 208.9L580.1 208.73L582.04 208.57L584.01 208.41L586.01 208.25L588.05 208.09L590.11 207.93L592.19 207.77L594.3 207.6L596.42 207.42L598.54 207.23L600.68 207.04L602.86 206.84L605.07 206.65L607.34 206.46L609.68 206.27L612.1 206.1L614.6 205.94L617.19 205.79L619.83 205.65L622.54 205.51L625.29 205.37L628.07 205.22L630.88 205.07L633.7 204.9L636.64 204.72L639.75 204.51L642.94 204.3L646.14 204.09L649.26 203.87L652.22 203.67L654.92 203.47L657.3 203.3L659.38 203.14L661.25 202.98L662.93 202.84L664.42 202.7L665.73 202.58L666.86 202.47L667.81 202.37L668.6 202.3" fill="none" stroke="#e9303a" stroke-width="1.15" stroke-dasharray="4.2 3"/>
<path d="M536.95 211.15h3.7v3.7h-3.7zM548.85 209.75h3.7v3.7h-3.7zM562.35 208.55h3.7v3.7h-3.7zM576.35 207.05h3.7v3.7h-3.7zM592.45 205.75h3.7v3.7h-3.7zM610.25 204.25h3.7v3.7h-3.7zM631.85 203.05h3.7v3.7h-3.7zM655.45 201.45h3.7v3.7h-3.7z" fill="none" stroke="#e9303a" stroke-width="0.85"/>
<path d="M662.5 211.6a1.8 1.8 0 1 0 3.6 0a1.8 1.8 0 1 0 -3.6 0zM653.3 212.8a1.8 1.8 0 1 0 3.6 0a1.8 1.8 0 1 0 -3.6 0zM645.8 214.3a1.8 1.8 0 1 0 3.6 0a1.8 1.8 0 1 0 -3.6 0zM639.1 215.6a1.8 1.8 0 1 0 3.6 0a1.8 1.8 0 1 0 -3.6 0zM632.9 216.8a1.8 1.8 0 1 0 3.6 0a1.8 1.8 0 1 0 -3.6 0zM627.2 218.1a1.8 1.8 0 1 0 3.6 0a1.8 1.8 0 1 0 -3.6 0zM622.2 219.3a1.8 1.8 0 1 0 3.6 0a1.8 1.8 0 1 0 -3.6 0zM618 220.8a1.8 1.8 0 1 0 3.6 0a1.8 1.8 0 1 0 -3.6 0zM614.2 222.3a1.8 1.8 0 1 0 3.6 0a1.8 1.8 0 1 0 -3.6 0zM610.8 223.8a1.8 1.8 0 1 0 3.6 0a1.8 1.8 0 1 0 -3.6 0zM607.8 225.3a1.8 1.8 0 1 0 3.6 0a1.8 1.8 0 1 0 -3.6 0z" fill="none" stroke="#4f9dbf" stroke-width="0.9"/>
<path d="M605.15 227.3a1.45 1.45 0 1 0 2.9 0a1.45 1.45 0 1 0 -2.9 0zM603.31 228.51a1.45 1.45 0 1 0 2.9 0a1.45 1.45 0 1 0 -2.9 0zM601.97 229.54a1.45 1.45 0 1 0 2.9 0a1.45 1.45 0 1 0 -2.9 0zM601.03 230.42a1.45 1.45 0 1 0 2.9 0a1.45 1.45 0 1 0 -2.9 0zM600.34 231.14a1.45 1.45 0 1 0 2.9 0a1.45 1.45 0 1 0 -2.9 0zM599.74 231.81a1.45 1.45 0 1 0 2.9 0a1.45 1.45 0 1 0 -2.9 0zM599.17 232.51a1.45 1.45 0 1 0 2.9 0a1.45 1.45 0 1 0 -2.9 0zM598.63 233.23a1.45 1.45 0 1 0 2.9 0a1.45 1.45 0 1 0 -2.9 0zM598.14 233.98a1.45 1.45 0 1 0 2.9 0a1.45 1.45 0 1 0 -2.9 0zM597.72 234.78a1.45 1.45 0 1 0 2.9 0a1.45 1.45 0 1 0 -2.9 0zM597.37 235.6a1.45 1.45 0 1 0 2.9 0a1.45 1.45 0 1 0 -2.9 0zM597.17 236.48a1.45 1.45 0 1 0 2.9 0a1.45 1.45 0 1 0 -2.9 0zM597.18 237.38a1.45 1.45 0 1 0 2.9 0a1.45 1.45 0 1 0 -2.9 0zM597.36 238.26a1.45 1.45 0 1 0 2.9 0a1.45 1.45 0 1 0 -2.9 0zM597.64 239.11a1.45 1.45 0 1 0 2.9 0a1.45 1.45 0 1 0 -2.9 0zM598.01 239.93a1.45 1.45 0 1 0 2.9 0a1.45 1.45 0 1 0 -2.9 0zM598.5 240.69a1.45 1.45 0 1 0 2.9 0a1.45 1.45 0 1 0 -2.9 0zM599.09 241.37a1.45 1.45 0 1 0 2.9 0a1.45 1.45 0 1 0 -2.9 0zM599.73 242a1.45 1.45 0 1 0 2.9 0a1.45 1.45 0 1 0 -2.9 0zM600.39 242.61a1.45 1.45 0 1 0 2.9 0a1.45 1.45 0 1 0 -2.9 0zM601.09 243.18a1.45 1.45 0 1 0 2.9 0a1.45 1.45 0 1 0 -2.9 0zM601.81 243.71a1.45 1.45 0 1 0 2.9 0a1.45 1.45 0 1 0 -2.9 0zM602.56 244.21a1.45 1.45 0 1 0 2.9 0a1.45 1.45 0 1 0 -2.9 0zM603.34 244.67a1.45 1.45 0 1 0 2.9 0a1.45 1.45 0 1 0 -2.9 0zM604.13 245.1a1.45 1.45 0 1 0 2.9 0a1.45 1.45 0 1 0 -2.9 0zM604.93 245.51a1.45 1.45 0 1 0 2.9 0a1.45 1.45 0 1 0 -2.9 0zM605.74 245.9a1.45 1.45 0 1 0 2.9 0a1.45 1.45 0 1 0 -2.9 0zM606.56 246.28a1.45 1.45 0 1 0 2.9 0a1.45 1.45 0 1 0 -2.9 0zM607.46 246.66a1.45 1.45 0 1 0 2.9 0a1.45 1.45 0 1 0 -2.9 0zM608.46 247.06a1.45 1.45 0 1 0 2.9 0a1.45 1.45 0 1 0 -2.9 0zM609.55 247.5a1.45 1.45 0 1 0 2.9 0a1.45 1.45 0 1 0 -2.9 0z" fill="none" stroke="#4f9dbf" stroke-width="0.9"/>
<path d="M610.9 248.2a1.9 1.9 0 1 0 3.8 0a1.9 1.9 0 1 0 -3.8 0zM614 249.1a1.9 1.9 0 1 0 3.8 0a1.9 1.9 0 1 0 -3.8 0zM618.2 250.9a1.9 1.9 0 1 0 3.8 0a1.9 1.9 0 1 0 -3.8 0zM623.1 252.1a1.9 1.9 0 1 0 3.8 0a1.9 1.9 0 1 0 -3.8 0zM628.6 253.6a1.9 1.9 0 1 0 3.8 0a1.9 1.9 0 1 0 -3.8 0zM635.6 255.6a1.9 1.9 0 1 0 3.8 0a1.9 1.9 0 1 0 -3.8 0zM642.8 256.4a1.9 1.9 0 1 0 3.8 0a1.9 1.9 0 1 0 -3.8 0zM651 257.5a1.9 1.9 0 1 0 3.8 0a1.9 1.9 0 1 0 -3.8 0zM659.8 259.1a1.9 1.9 0 1 0 3.8 0a1.9 1.9 0 1 0 -3.8 0z" fill="#4f9dbf"/>
<text x="535.7" y="202.4" class="ti">(<tspan font-style="italic">h</tspan>) <tspan font-style="italic" dx="-0.6">T</tspan><tspan dx="1.2">=</tspan><tspan dx="0.7" letter-spacing="0.6">0.8</tspan></text>
<text x="619.6" y="241.6" class="xn"><tspan font-style="italic">&#x1E8B;</tspan><tspan dx="0.6">&lt;</tspan><tspan dx="0.8">0</tspan></text>
</svg></body></html>
